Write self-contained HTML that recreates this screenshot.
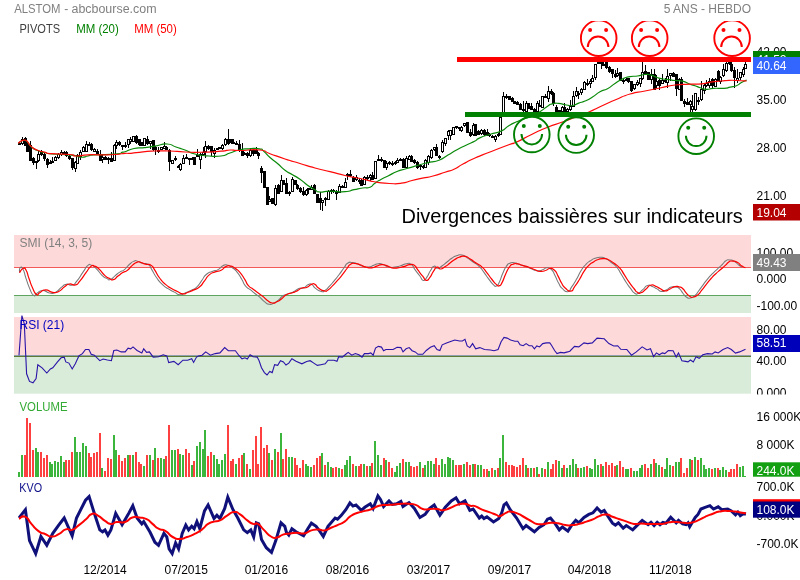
<!DOCTYPE html>
<html><head><meta charset="utf-8"><title>ALSTOM</title>
<style>html,body{margin:0;padding:0;background:#fff}body{width:800px;height:580px;overflow:hidden}</style></head>
<body>
<svg width="800" height="580" viewBox="0 0 800 580" style="will-change:transform;display:block;font-family:'Liberation Sans',sans-serif;font-size:12px">
<rect width="800" height="580" fill="#fff"/>
<rect x="14" y="235" width="737" height="32.5" fill="#fdd9d9"/>
<rect x="14" y="295.5" width="737" height="17.5" fill="#d9ebd9"/>
<rect x="14" y="267" width="737" height="1" fill="#f25a5a"/>
<rect x="14" y="295" width="737" height="1" fill="#5fa55f"/>
<rect x="14" y="317" width="737" height="39" fill="#fdd9d9"/>
<rect x="14" y="356" width="737" height="37.7" fill="#d9ebd9"/>
<rect x="14" y="355" width="737" height="1" fill="#8fa0b0"/>
<rect x="14" y="356" width="737" height="1" fill="#5f7a32"/>
<text x="756.5" y="56.4" fill="#000">42.00</text>
<text x="756.5" y="104.0" fill="#000">35.00</text>
<text x="756.5" y="152.0" fill="#000">28.00</text>
<text x="756.5" y="200.0" fill="#000">21.00</text>
<text x="756.5" y="256.5" fill="#000">100.00</text>
<text x="756.5" y="283.0" fill="#000">0.000</text>
<text x="756.5" y="309.5" fill="#000">-100.00</text>
<clipPath id="c1"><rect x="750" y="310" width="50" height="84.5"/></clipPath>
<g clip-path="url(#c1)">
<text x="756.5" y="333.6" fill="#000">80.00</text>
<text x="756.5" y="364.6" fill="#000">40.00</text>
<text x="756.5" y="396.6" fill="#000">0.000</text>
</g>
<text x="756.5" y="420.7" fill="#000">16 000K</text>
<text x="756.5" y="449.4" fill="#000">8 000K</text>
<text x="756.5" y="491.4" fill="#000">700.0K</text>
<text x="756.5" y="520.4" fill="#000">0.000K</text>
<text x="756.5" y="548.4" fill="#000">-700.0K</text>
<g shape-rendering="crispEdges">
<rect x="19" y="143" width="1" height="1" fill="#000"/>
<rect x="18" y="143" width="3" height="2" fill="#000"/>
<rect x="22" y="137" width="1" height="8" fill="#000"/>
<rect x="21" y="139" width="3" height="5" fill="#000"/>
<rect x="22" y="140" width="1" height="3" fill="#fff"/>
<rect x="25" y="137" width="1" height="9" fill="#000"/>
<rect x="24" y="138" width="3" height="8" fill="#000"/>
<rect x="27" y="142" width="1" height="10" fill="#000"/>
<rect x="26" y="143" width="3" height="9" fill="#000"/>
<rect x="30" y="141" width="1" height="20" fill="#000"/>
<rect x="29" y="145" width="3" height="16" fill="#000"/>
<rect x="33" y="157" width="1" height="8" fill="#000"/>
<rect x="32" y="158" width="3" height="5" fill="#000"/>
<rect x="36" y="161" width="1" height="8" fill="#000"/>
<rect x="35" y="161" width="3" height="2" fill="#000"/>
<rect x="38" y="151" width="1" height="11" fill="#000"/>
<rect x="37" y="154" width="3" height="7" fill="#000"/>
<rect x="38" y="155" width="1" height="5" fill="#fff"/>
<rect x="41" y="150" width="1" height="6" fill="#000"/>
<rect x="40" y="151" width="3" height="4" fill="#000"/>
<rect x="44" y="152" width="1" height="9" fill="#000"/>
<rect x="43" y="154" width="3" height="5" fill="#000"/>
<rect x="47" y="158" width="1" height="10" fill="#000"/>
<rect x="46" y="159" width="3" height="6" fill="#000"/>
<rect x="50" y="160" width="1" height="4" fill="#000"/>
<rect x="49" y="162" width="3" height="2" fill="#000"/>
<rect x="52" y="157" width="1" height="5" fill="#000"/>
<rect x="51" y="161" width="3" height="2" fill="#000"/>
<rect x="55" y="156" width="1" height="5" fill="#000"/>
<rect x="54" y="157" width="3" height="4" fill="#000"/>
<rect x="55" y="158" width="1" height="2" fill="#fff"/>
<rect x="58" y="153" width="1" height="6" fill="#000"/>
<rect x="57" y="154" width="3" height="4" fill="#000"/>
<rect x="58" y="155" width="1" height="2" fill="#fff"/>
<rect x="61" y="150" width="1" height="6" fill="#000"/>
<rect x="60" y="152" width="3" height="3" fill="#000"/>
<rect x="61" y="153" width="1" height="1" fill="#fff"/>
<rect x="64" y="151" width="1" height="3" fill="#000"/>
<rect x="63" y="152" width="3" height="2" fill="#000"/>
<rect x="66" y="151" width="1" height="6" fill="#000"/>
<rect x="65" y="152" width="3" height="4" fill="#000"/>
<rect x="69" y="155" width="1" height="5" fill="#000"/>
<rect x="68" y="156" width="3" height="3" fill="#000"/>
<rect x="72" y="158" width="1" height="12" fill="#000"/>
<rect x="71" y="158" width="3" height="10" fill="#000"/>
<rect x="75" y="161" width="1" height="11" fill="#000"/>
<rect x="74" y="162" width="3" height="7" fill="#000"/>
<rect x="75" y="163" width="1" height="5" fill="#fff"/>
<rect x="77" y="154" width="1" height="10" fill="#000"/>
<rect x="76" y="155" width="3" height="9" fill="#000"/>
<rect x="77" y="156" width="1" height="7" fill="#fff"/>
<rect x="80" y="150" width="1" height="10" fill="#000"/>
<rect x="79" y="152" width="3" height="5" fill="#000"/>
<rect x="80" y="153" width="1" height="3" fill="#fff"/>
<rect x="83" y="146" width="1" height="6" fill="#000"/>
<rect x="82" y="147" width="3" height="5" fill="#000"/>
<rect x="83" y="148" width="1" height="3" fill="#fff"/>
<rect x="86" y="141" width="1" height="11" fill="#000"/>
<rect x="85" y="144" width="3" height="8" fill="#000"/>
<rect x="86" y="145" width="1" height="6" fill="#fff"/>
<rect x="89" y="142" width="1" height="4" fill="#000"/>
<rect x="88" y="144" width="3" height="2" fill="#000"/>
<rect x="91" y="143" width="1" height="8" fill="#000"/>
<rect x="90" y="144" width="3" height="6" fill="#000"/>
<rect x="94" y="148" width="1" height="4" fill="#000"/>
<rect x="93" y="149" width="3" height="3" fill="#000"/>
<rect x="94" y="150" width="1" height="1" fill="#fff"/>
<rect x="97" y="149" width="1" height="5" fill="#000"/>
<rect x="96" y="151" width="3" height="3" fill="#000"/>
<rect x="100" y="150" width="1" height="11" fill="#000"/>
<rect x="99" y="154" width="3" height="7" fill="#000"/>
<rect x="102" y="155" width="1" height="8" fill="#000"/>
<rect x="101" y="157" width="3" height="3" fill="#000"/>
<rect x="102" y="158" width="1" height="1" fill="#fff"/>
<rect x="105" y="156" width="1" height="4" fill="#000"/>
<rect x="104" y="157" width="3" height="3" fill="#000"/>
<rect x="108" y="157" width="1" height="7" fill="#000"/>
<rect x="107" y="158" width="3" height="2" fill="#000"/>
<rect x="111" y="152" width="1" height="10" fill="#000"/>
<rect x="110" y="158" width="3" height="4" fill="#000"/>
<rect x="114" y="144" width="1" height="17" fill="#000"/>
<rect x="113" y="145" width="3" height="16" fill="#000"/>
<rect x="114" y="146" width="1" height="14" fill="#fff"/>
<rect x="116" y="140" width="1" height="9" fill="#000"/>
<rect x="115" y="142" width="3" height="4" fill="#000"/>
<rect x="116" y="143" width="1" height="2" fill="#fff"/>
<rect x="119" y="141" width="1" height="5" fill="#000"/>
<rect x="118" y="142" width="3" height="3" fill="#000"/>
<rect x="122" y="145" width="1" height="5" fill="#000"/>
<rect x="121" y="145" width="3" height="2" fill="#000"/>
<rect x="125" y="142" width="1" height="6" fill="#000"/>
<rect x="124" y="145" width="3" height="2" fill="#000"/>
<rect x="128" y="139" width="1" height="9" fill="#000"/>
<rect x="127" y="139" width="3" height="6" fill="#000"/>
<rect x="128" y="140" width="1" height="4" fill="#fff"/>
<rect x="130" y="137" width="1" height="7" fill="#000"/>
<rect x="129" y="139" width="3" height="3" fill="#000"/>
<rect x="130" y="140" width="1" height="1" fill="#fff"/>
<rect x="133" y="136" width="1" height="6" fill="#000"/>
<rect x="132" y="136" width="3" height="6" fill="#000"/>
<rect x="133" y="137" width="1" height="4" fill="#fff"/>
<rect x="136" y="135" width="1" height="9" fill="#000"/>
<rect x="135" y="136" width="3" height="7" fill="#000"/>
<rect x="139" y="139" width="1" height="7" fill="#000"/>
<rect x="138" y="139" width="3" height="6" fill="#000"/>
<rect x="141" y="142" width="1" height="4" fill="#000"/>
<rect x="140" y="142" width="3" height="4" fill="#000"/>
<rect x="144" y="138" width="1" height="8" fill="#000"/>
<rect x="143" y="138" width="3" height="8" fill="#000"/>
<rect x="144" y="139" width="1" height="6" fill="#fff"/>
<rect x="147" y="136" width="1" height="9" fill="#000"/>
<rect x="146" y="139" width="3" height="5" fill="#000"/>
<rect x="150" y="141" width="1" height="8" fill="#000"/>
<rect x="149" y="141" width="3" height="3" fill="#000"/>
<rect x="150" y="142" width="1" height="1" fill="#fff"/>
<rect x="153" y="140" width="1" height="11" fill="#000"/>
<rect x="152" y="140" width="3" height="10" fill="#000"/>
<rect x="155" y="146" width="1" height="9" fill="#000"/>
<rect x="154" y="147" width="3" height="3" fill="#000"/>
<rect x="158" y="147" width="1" height="6" fill="#000"/>
<rect x="157" y="150" width="3" height="2" fill="#000"/>
<rect x="161" y="147" width="1" height="3" fill="#000"/>
<rect x="160" y="147" width="3" height="3" fill="#000"/>
<rect x="161" y="148" width="1" height="1" fill="#fff"/>
<rect x="164" y="142" width="1" height="7" fill="#000"/>
<rect x="163" y="146" width="3" height="3" fill="#000"/>
<rect x="164" y="147" width="1" height="1" fill="#fff"/>
<rect x="166" y="146" width="1" height="4" fill="#000"/>
<rect x="165" y="147" width="3" height="3" fill="#000"/>
<rect x="169" y="149" width="1" height="22" fill="#000"/>
<rect x="168" y="150" width="3" height="12" fill="#000"/>
<rect x="172" y="160" width="1" height="4" fill="#000"/>
<rect x="171" y="160" width="3" height="4" fill="#000"/>
<rect x="172" y="161" width="1" height="2" fill="#fff"/>
<rect x="175" y="156" width="1" height="5" fill="#000"/>
<rect x="174" y="158" width="3" height="2" fill="#000"/>
<rect x="178" y="165" width="1" height="2" fill="#000"/>
<rect x="177" y="166" width="3" height="2" fill="#000"/>
<rect x="180" y="163" width="1" height="8" fill="#000"/>
<rect x="179" y="164" width="3" height="6" fill="#000"/>
<rect x="180" y="165" width="1" height="4" fill="#fff"/>
<rect x="183" y="155" width="1" height="9" fill="#000"/>
<rect x="182" y="158" width="3" height="6" fill="#000"/>
<rect x="183" y="159" width="1" height="4" fill="#fff"/>
<rect x="186" y="154" width="1" height="5" fill="#000"/>
<rect x="185" y="157" width="3" height="2" fill="#000"/>
<rect x="189" y="158" width="1" height="7" fill="#000"/>
<rect x="188" y="158" width="3" height="2" fill="#000"/>
<rect x="192" y="157" width="1" height="2" fill="#000"/>
<rect x="191" y="158" width="3" height="2" fill="#000"/>
<rect x="194" y="157" width="1" height="8" fill="#000"/>
<rect x="193" y="157" width="3" height="8" fill="#000"/>
<rect x="197" y="149" width="1" height="8" fill="#000"/>
<rect x="196" y="155" width="3" height="2" fill="#000"/>
<rect x="200" y="153" width="1" height="16" fill="#000"/>
<rect x="199" y="154" width="3" height="6" fill="#000"/>
<rect x="200" y="155" width="1" height="4" fill="#fff"/>
<rect x="203" y="147" width="1" height="9" fill="#000"/>
<rect x="202" y="152" width="3" height="3" fill="#000"/>
<rect x="203" y="153" width="1" height="1" fill="#fff"/>
<rect x="205" y="141" width="1" height="17" fill="#000"/>
<rect x="204" y="146" width="3" height="6" fill="#000"/>
<rect x="205" y="147" width="1" height="4" fill="#fff"/>
<rect x="208" y="145" width="1" height="5" fill="#000"/>
<rect x="207" y="146" width="3" height="3" fill="#000"/>
<rect x="211" y="146" width="1" height="10" fill="#000"/>
<rect x="210" y="146" width="3" height="6" fill="#000"/>
<rect x="214" y="148" width="1" height="10" fill="#000"/>
<rect x="213" y="150" width="3" height="4" fill="#000"/>
<rect x="214" y="151" width="1" height="2" fill="#fff"/>
<rect x="217" y="148" width="1" height="1" fill="#000"/>
<rect x="216" y="148" width="3" height="2" fill="#000"/>
<rect x="219" y="147" width="1" height="2" fill="#000"/>
<rect x="218" y="147" width="3" height="2" fill="#000"/>
<rect x="222" y="144" width="1" height="6" fill="#000"/>
<rect x="221" y="145" width="3" height="4" fill="#000"/>
<rect x="222" y="146" width="1" height="2" fill="#fff"/>
<rect x="225" y="138" width="1" height="8" fill="#000"/>
<rect x="224" y="139" width="3" height="6" fill="#000"/>
<rect x="225" y="140" width="1" height="4" fill="#fff"/>
<rect x="228" y="129" width="1" height="16" fill="#000"/>
<rect x="227" y="139" width="3" height="5" fill="#000"/>
<rect x="231" y="139" width="1" height="5" fill="#000"/>
<rect x="230" y="139" width="3" height="4" fill="#000"/>
<rect x="233" y="139" width="1" height="5" fill="#000"/>
<rect x="232" y="142" width="3" height="2" fill="#000"/>
<rect x="236" y="141" width="1" height="4" fill="#000"/>
<rect x="235" y="143" width="3" height="2" fill="#000"/>
<rect x="239" y="140" width="1" height="12" fill="#000"/>
<rect x="238" y="144" width="3" height="7" fill="#000"/>
<rect x="242" y="143" width="1" height="13" fill="#000"/>
<rect x="241" y="150" width="3" height="6" fill="#000"/>
<rect x="244" y="152" width="1" height="2" fill="#000"/>
<rect x="243" y="153" width="3" height="2" fill="#000"/>
<rect x="247" y="152" width="1" height="6" fill="#000"/>
<rect x="246" y="153" width="3" height="3" fill="#000"/>
<rect x="250" y="148" width="1" height="9" fill="#000"/>
<rect x="249" y="150" width="3" height="6" fill="#000"/>
<rect x="250" y="151" width="1" height="4" fill="#fff"/>
<rect x="253" y="149" width="1" height="7" fill="#000"/>
<rect x="252" y="150" width="3" height="4" fill="#000"/>
<rect x="256" y="147" width="1" height="7" fill="#000"/>
<rect x="255" y="150" width="3" height="4" fill="#000"/>
<rect x="258" y="152" width="1" height="7" fill="#000"/>
<rect x="257" y="153" width="3" height="3" fill="#000"/>
<rect x="261" y="166" width="1" height="17" fill="#000"/>
<rect x="260" y="168" width="3" height="5" fill="#000"/>
<rect x="264" y="171" width="1" height="17" fill="#000"/>
<rect x="263" y="171" width="3" height="17" fill="#000"/>
<rect x="267" y="187" width="1" height="18" fill="#000"/>
<rect x="266" y="187" width="3" height="18" fill="#000"/>
<rect x="269" y="196" width="1" height="6" fill="#000"/>
<rect x="268" y="199" width="3" height="3" fill="#000"/>
<rect x="269" y="200" width="1" height="1" fill="#fff"/>
<rect x="272" y="198" width="1" height="6" fill="#000"/>
<rect x="271" y="198" width="3" height="6" fill="#000"/>
<rect x="275" y="185" width="1" height="21" fill="#000"/>
<rect x="274" y="188" width="3" height="17" fill="#000"/>
<rect x="275" y="189" width="1" height="15" fill="#fff"/>
<rect x="278" y="184" width="1" height="10" fill="#000"/>
<rect x="277" y="185" width="3" height="9" fill="#000"/>
<rect x="281" y="175" width="1" height="17" fill="#000"/>
<rect x="280" y="180" width="3" height="12" fill="#000"/>
<rect x="281" y="181" width="1" height="10" fill="#fff"/>
<rect x="283" y="180" width="1" height="5" fill="#000"/>
<rect x="282" y="180" width="3" height="5" fill="#000"/>
<rect x="286" y="178" width="1" height="16" fill="#000"/>
<rect x="285" y="183" width="3" height="11" fill="#000"/>
<rect x="289" y="191" width="1" height="5" fill="#000"/>
<rect x="288" y="192" width="3" height="2" fill="#000"/>
<rect x="292" y="177" width="1" height="15" fill="#000"/>
<rect x="291" y="179" width="3" height="13" fill="#000"/>
<rect x="292" y="180" width="1" height="11" fill="#fff"/>
<rect x="295" y="180" width="1" height="5" fill="#000"/>
<rect x="294" y="180" width="3" height="5" fill="#000"/>
<rect x="297" y="184" width="1" height="6" fill="#000"/>
<rect x="296" y="185" width="3" height="4" fill="#000"/>
<rect x="300" y="187" width="1" height="6" fill="#000"/>
<rect x="299" y="188" width="3" height="4" fill="#000"/>
<rect x="303" y="187" width="1" height="9" fill="#000"/>
<rect x="302" y="191" width="3" height="4" fill="#000"/>
<rect x="306" y="189" width="1" height="7" fill="#000"/>
<rect x="305" y="190" width="3" height="5" fill="#000"/>
<rect x="306" y="191" width="1" height="3" fill="#fff"/>
<rect x="308" y="188" width="1" height="6" fill="#000"/>
<rect x="307" y="188" width="3" height="2" fill="#000"/>
<rect x="311" y="185" width="1" height="5" fill="#000"/>
<rect x="310" y="187" width="3" height="3" fill="#000"/>
<rect x="311" y="188" width="1" height="1" fill="#fff"/>
<rect x="314" y="184" width="1" height="10" fill="#000"/>
<rect x="313" y="185" width="3" height="9" fill="#000"/>
<rect x="317" y="194" width="1" height="9" fill="#000"/>
<rect x="316" y="194" width="3" height="9" fill="#000"/>
<rect x="320" y="192" width="1" height="18" fill="#000"/>
<rect x="319" y="198" width="3" height="5" fill="#000"/>
<rect x="322" y="200" width="1" height="11" fill="#000"/>
<rect x="321" y="200" width="3" height="3" fill="#000"/>
<rect x="322" y="201" width="1" height="1" fill="#fff"/>
<rect x="325" y="197" width="1" height="9" fill="#000"/>
<rect x="324" y="198" width="3" height="2" fill="#000"/>
<rect x="328" y="190" width="1" height="10" fill="#000"/>
<rect x="327" y="191" width="3" height="9" fill="#000"/>
<rect x="328" y="192" width="1" height="7" fill="#fff"/>
<rect x="331" y="189" width="1" height="5" fill="#000"/>
<rect x="330" y="190" width="3" height="2" fill="#000"/>
<rect x="333" y="189" width="1" height="4" fill="#000"/>
<rect x="332" y="190" width="3" height="2" fill="#000"/>
<rect x="336" y="190" width="1" height="10" fill="#000"/>
<rect x="335" y="191" width="3" height="3" fill="#000"/>
<rect x="339" y="184" width="1" height="9" fill="#000"/>
<rect x="338" y="186" width="3" height="7" fill="#000"/>
<rect x="339" y="187" width="1" height="5" fill="#fff"/>
<rect x="342" y="185" width="1" height="3" fill="#000"/>
<rect x="341" y="186" width="3" height="2" fill="#000"/>
<rect x="345" y="178" width="1" height="10" fill="#000"/>
<rect x="344" y="182" width="3" height="6" fill="#000"/>
<rect x="345" y="183" width="1" height="4" fill="#fff"/>
<rect x="347" y="173" width="1" height="7" fill="#000"/>
<rect x="346" y="174" width="3" height="2" fill="#000"/>
<rect x="350" y="170" width="1" height="7" fill="#000"/>
<rect x="349" y="174" width="3" height="2" fill="#000"/>
<rect x="353" y="176" width="1" height="6" fill="#000"/>
<rect x="352" y="177" width="3" height="5" fill="#000"/>
<rect x="356" y="175" width="1" height="6" fill="#000"/>
<rect x="355" y="177" width="3" height="3" fill="#000"/>
<rect x="356" y="178" width="1" height="1" fill="#fff"/>
<rect x="359" y="178" width="1" height="6" fill="#000"/>
<rect x="358" y="180" width="3" height="2" fill="#000"/>
<rect x="361" y="179" width="1" height="7" fill="#000"/>
<rect x="360" y="180" width="3" height="6" fill="#000"/>
<rect x="364" y="176" width="1" height="9" fill="#000"/>
<rect x="363" y="177" width="3" height="8" fill="#000"/>
<rect x="364" y="178" width="1" height="6" fill="#fff"/>
<rect x="367" y="175" width="1" height="5" fill="#000"/>
<rect x="366" y="177" width="3" height="2" fill="#000"/>
<rect x="370" y="174" width="1" height="7" fill="#000"/>
<rect x="369" y="175" width="3" height="3" fill="#000"/>
<rect x="370" y="176" width="1" height="1" fill="#fff"/>
<rect x="372" y="172" width="1" height="8" fill="#000"/>
<rect x="371" y="175" width="3" height="5" fill="#000"/>
<rect x="375" y="161" width="1" height="18" fill="#000"/>
<rect x="374" y="161" width="3" height="18" fill="#000"/>
<rect x="375" y="162" width="1" height="16" fill="#fff"/>
<rect x="378" y="155" width="1" height="6" fill="#000"/>
<rect x="377" y="159" width="3" height="2" fill="#000"/>
<rect x="381" y="157" width="1" height="5" fill="#000"/>
<rect x="380" y="159" width="3" height="2" fill="#000"/>
<rect x="384" y="160" width="1" height="8" fill="#000"/>
<rect x="383" y="160" width="3" height="8" fill="#000"/>
<rect x="386" y="161" width="1" height="9" fill="#000"/>
<rect x="385" y="163" width="3" height="5" fill="#000"/>
<rect x="386" y="164" width="1" height="3" fill="#fff"/>
<rect x="389" y="161" width="1" height="4" fill="#000"/>
<rect x="388" y="162" width="3" height="2" fill="#000"/>
<rect x="392" y="161" width="1" height="5" fill="#000"/>
<rect x="391" y="163" width="3" height="2" fill="#000"/>
<rect x="395" y="161" width="1" height="4" fill="#000"/>
<rect x="394" y="162" width="3" height="2" fill="#000"/>
<rect x="397" y="158" width="1" height="5" fill="#000"/>
<rect x="396" y="160" width="3" height="3" fill="#000"/>
<rect x="397" y="161" width="1" height="1" fill="#fff"/>
<rect x="400" y="158" width="1" height="3" fill="#000"/>
<rect x="399" y="159" width="3" height="2" fill="#000"/>
<rect x="403" y="158" width="1" height="10" fill="#000"/>
<rect x="402" y="159" width="3" height="9" fill="#000"/>
<rect x="406" y="156" width="1" height="12" fill="#000"/>
<rect x="405" y="158" width="3" height="10" fill="#000"/>
<rect x="406" y="159" width="1" height="8" fill="#fff"/>
<rect x="409" y="155" width="1" height="5" fill="#000"/>
<rect x="408" y="156" width="3" height="4" fill="#000"/>
<rect x="409" y="157" width="1" height="2" fill="#fff"/>
<rect x="411" y="155" width="1" height="7" fill="#000"/>
<rect x="410" y="156" width="3" height="6" fill="#000"/>
<rect x="414" y="159" width="1" height="5" fill="#000"/>
<rect x="413" y="160" width="3" height="3" fill="#000"/>
<rect x="417" y="161" width="1" height="8" fill="#000"/>
<rect x="416" y="162" width="3" height="6" fill="#000"/>
<rect x="420" y="164" width="1" height="6" fill="#000"/>
<rect x="419" y="165" width="3" height="2" fill="#000"/>
<rect x="423" y="165" width="1" height="4" fill="#000"/>
<rect x="422" y="166" width="3" height="2" fill="#000"/>
<rect x="425" y="159" width="1" height="9" fill="#000"/>
<rect x="424" y="160" width="3" height="8" fill="#000"/>
<rect x="425" y="161" width="1" height="6" fill="#fff"/>
<rect x="428" y="155" width="1" height="10" fill="#000"/>
<rect x="427" y="156" width="3" height="7" fill="#000"/>
<rect x="428" y="157" width="1" height="5" fill="#fff"/>
<rect x="431" y="149" width="1" height="10" fill="#000"/>
<rect x="430" y="150" width="3" height="8" fill="#000"/>
<rect x="431" y="151" width="1" height="6" fill="#fff"/>
<rect x="434" y="147" width="1" height="4" fill="#000"/>
<rect x="433" y="147" width="3" height="3" fill="#000"/>
<rect x="434" y="148" width="1" height="1" fill="#fff"/>
<rect x="436" y="144" width="1" height="12" fill="#000"/>
<rect x="435" y="147" width="3" height="9" fill="#000"/>
<rect x="439" y="155" width="1" height="4" fill="#000"/>
<rect x="438" y="156" width="3" height="2" fill="#000"/>
<rect x="442" y="140" width="1" height="13" fill="#000"/>
<rect x="441" y="142" width="3" height="10" fill="#000"/>
<rect x="442" y="143" width="1" height="8" fill="#fff"/>
<rect x="445" y="138" width="1" height="8" fill="#000"/>
<rect x="444" y="138" width="3" height="6" fill="#000"/>
<rect x="445" y="139" width="1" height="4" fill="#fff"/>
<rect x="448" y="130" width="1" height="10" fill="#000"/>
<rect x="447" y="131" width="3" height="5" fill="#000"/>
<rect x="448" y="132" width="1" height="3" fill="#fff"/>
<rect x="450" y="130" width="1" height="10" fill="#000"/>
<rect x="449" y="130" width="3" height="6" fill="#000"/>
<rect x="450" y="131" width="1" height="4" fill="#fff"/>
<rect x="453" y="127" width="1" height="8" fill="#000"/>
<rect x="452" y="127" width="3" height="8" fill="#000"/>
<rect x="453" y="128" width="1" height="6" fill="#fff"/>
<rect x="456" y="126" width="1" height="3" fill="#000"/>
<rect x="455" y="126" width="3" height="2" fill="#000"/>
<rect x="459" y="127" width="1" height="4" fill="#000"/>
<rect x="458" y="127" width="3" height="2" fill="#000"/>
<rect x="461" y="126" width="1" height="6" fill="#000"/>
<rect x="460" y="127" width="3" height="4" fill="#000"/>
<rect x="461" y="128" width="1" height="2" fill="#fff"/>
<rect x="464" y="123" width="1" height="4" fill="#000"/>
<rect x="463" y="123" width="3" height="3" fill="#000"/>
<rect x="464" y="124" width="1" height="1" fill="#fff"/>
<rect x="467" y="122" width="1" height="11" fill="#000"/>
<rect x="466" y="122" width="3" height="11" fill="#000"/>
<rect x="470" y="129" width="1" height="8" fill="#000"/>
<rect x="469" y="132" width="3" height="4" fill="#000"/>
<rect x="473" y="123" width="1" height="13" fill="#000"/>
<rect x="472" y="125" width="3" height="10" fill="#000"/>
<rect x="473" y="126" width="1" height="8" fill="#fff"/>
<rect x="475" y="124" width="1" height="12" fill="#000"/>
<rect x="474" y="124" width="3" height="12" fill="#000"/>
<rect x="478" y="130" width="1" height="5" fill="#000"/>
<rect x="477" y="131" width="3" height="4" fill="#000"/>
<rect x="481" y="129" width="1" height="6" fill="#000"/>
<rect x="480" y="130" width="3" height="4" fill="#000"/>
<rect x="481" y="131" width="1" height="2" fill="#fff"/>
<rect x="484" y="129" width="1" height="7" fill="#000"/>
<rect x="483" y="130" width="3" height="5" fill="#000"/>
<rect x="487" y="129" width="1" height="7" fill="#000"/>
<rect x="486" y="132" width="3" height="3" fill="#000"/>
<rect x="489" y="133" width="1" height="4" fill="#000"/>
<rect x="488" y="134" width="3" height="2" fill="#000"/>
<rect x="492" y="135" width="1" height="3" fill="#000"/>
<rect x="491" y="136" width="3" height="2" fill="#000"/>
<rect x="495" y="135" width="1" height="7" fill="#000"/>
<rect x="494" y="136" width="3" height="4" fill="#000"/>
<rect x="495" y="137" width="1" height="2" fill="#fff"/>
<rect x="498" y="133" width="1" height="4" fill="#000"/>
<rect x="497" y="134" width="3" height="2" fill="#000"/>
<rect x="500" y="117" width="1" height="18" fill="#000"/>
<rect x="499" y="117" width="3" height="18" fill="#000"/>
<rect x="500" y="118" width="1" height="16" fill="#fff"/>
<rect x="503" y="92" width="1" height="25" fill="#000"/>
<rect x="502" y="96" width="3" height="21" fill="#000"/>
<rect x="503" y="97" width="1" height="19" fill="#fff"/>
<rect x="506" y="94" width="1" height="5" fill="#000"/>
<rect x="505" y="96" width="3" height="2" fill="#000"/>
<rect x="509" y="96" width="1" height="4" fill="#000"/>
<rect x="508" y="96" width="3" height="4" fill="#000"/>
<rect x="512" y="97" width="1" height="5" fill="#000"/>
<rect x="511" y="98" width="3" height="4" fill="#000"/>
<rect x="514" y="101" width="1" height="3" fill="#000"/>
<rect x="513" y="101" width="3" height="3" fill="#000"/>
<rect x="517" y="101" width="1" height="4" fill="#000"/>
<rect x="516" y="102" width="3" height="3" fill="#000"/>
<rect x="520" y="103" width="1" height="7" fill="#000"/>
<rect x="519" y="104" width="3" height="6" fill="#000"/>
<rect x="523" y="101" width="1" height="11" fill="#000"/>
<rect x="522" y="109" width="3" height="2" fill="#000"/>
<rect x="526" y="101" width="1" height="11" fill="#000"/>
<rect x="525" y="103" width="3" height="9" fill="#000"/>
<rect x="526" y="104" width="1" height="7" fill="#fff"/>
<rect x="528" y="103" width="1" height="6" fill="#000"/>
<rect x="527" y="103" width="3" height="6" fill="#000"/>
<rect x="531" y="103" width="1" height="7" fill="#000"/>
<rect x="530" y="106" width="3" height="4" fill="#000"/>
<rect x="534" y="108" width="1" height="4" fill="#000"/>
<rect x="533" y="109" width="3" height="3" fill="#000"/>
<rect x="537" y="101" width="1" height="11" fill="#000"/>
<rect x="536" y="103" width="3" height="9" fill="#000"/>
<rect x="537" y="104" width="1" height="7" fill="#fff"/>
<rect x="539" y="100" width="1" height="6" fill="#000"/>
<rect x="538" y="105" width="3" height="2" fill="#000"/>
<rect x="542" y="96" width="1" height="12" fill="#000"/>
<rect x="541" y="96" width="3" height="12" fill="#000"/>
<rect x="542" y="97" width="1" height="10" fill="#fff"/>
<rect x="545" y="94" width="1" height="4" fill="#000"/>
<rect x="544" y="96" width="3" height="2" fill="#000"/>
<rect x="548" y="86" width="1" height="16" fill="#000"/>
<rect x="547" y="91" width="3" height="8" fill="#000"/>
<rect x="548" y="92" width="1" height="6" fill="#fff"/>
<rect x="551" y="89" width="1" height="6" fill="#000"/>
<rect x="550" y="91" width="3" height="3" fill="#000"/>
<rect x="553" y="92" width="1" height="14" fill="#000"/>
<rect x="552" y="93" width="3" height="11" fill="#000"/>
<rect x="556" y="105" width="1" height="7" fill="#000"/>
<rect x="555" y="107" width="3" height="5" fill="#000"/>
<rect x="559" y="110" width="1" height="2" fill="#000"/>
<rect x="558" y="110" width="3" height="2" fill="#000"/>
<rect x="562" y="106" width="1" height="6" fill="#000"/>
<rect x="561" y="107" width="3" height="5" fill="#000"/>
<rect x="562" y="108" width="1" height="3" fill="#fff"/>
<rect x="564" y="103" width="1" height="9" fill="#000"/>
<rect x="563" y="107" width="3" height="5" fill="#000"/>
<rect x="567" y="108" width="1" height="4" fill="#000"/>
<rect x="566" y="109" width="3" height="3" fill="#000"/>
<rect x="567" y="110" width="1" height="1" fill="#fff"/>
<rect x="570" y="100" width="1" height="11" fill="#000"/>
<rect x="569" y="106" width="3" height="4" fill="#000"/>
<rect x="570" y="107" width="1" height="2" fill="#fff"/>
<rect x="573" y="91" width="1" height="16" fill="#000"/>
<rect x="572" y="96" width="3" height="11" fill="#000"/>
<rect x="573" y="97" width="1" height="9" fill="#fff"/>
<rect x="576" y="87" width="1" height="10" fill="#000"/>
<rect x="575" y="91" width="3" height="5" fill="#000"/>
<rect x="576" y="92" width="1" height="3" fill="#fff"/>
<rect x="578" y="91" width="1" height="8" fill="#000"/>
<rect x="577" y="93" width="3" height="2" fill="#000"/>
<rect x="581" y="88" width="1" height="7" fill="#000"/>
<rect x="580" y="89" width="3" height="4" fill="#000"/>
<rect x="581" y="90" width="1" height="2" fill="#fff"/>
<rect x="584" y="81" width="1" height="9" fill="#000"/>
<rect x="583" y="82" width="3" height="8" fill="#000"/>
<rect x="584" y="83" width="1" height="6" fill="#fff"/>
<rect x="587" y="79" width="1" height="7" fill="#000"/>
<rect x="586" y="83" width="3" height="2" fill="#000"/>
<rect x="590" y="79" width="1" height="9" fill="#000"/>
<rect x="589" y="81" width="3" height="3" fill="#000"/>
<rect x="590" y="82" width="1" height="1" fill="#fff"/>
<rect x="592" y="75" width="1" height="7" fill="#000"/>
<rect x="591" y="78" width="3" height="4" fill="#000"/>
<rect x="592" y="79" width="1" height="2" fill="#fff"/>
<rect x="595" y="64" width="1" height="16" fill="#000"/>
<rect x="594" y="64" width="3" height="14" fill="#000"/>
<rect x="595" y="65" width="1" height="12" fill="#fff"/>
<rect x="598" y="62" width="1" height="2" fill="#000"/>
<rect x="597" y="62" width="3" height="2" fill="#000"/>
<rect x="601" y="62" width="1" height="7" fill="#000"/>
<rect x="600" y="62" width="3" height="2" fill="#000"/>
<rect x="603" y="62" width="1" height="4" fill="#000"/>
<rect x="602" y="64" width="3" height="2" fill="#000"/>
<rect x="606" y="62" width="1" height="7" fill="#000"/>
<rect x="605" y="62" width="3" height="6" fill="#000"/>
<rect x="609" y="66" width="1" height="7" fill="#000"/>
<rect x="608" y="67" width="3" height="5" fill="#000"/>
<rect x="612" y="69" width="1" height="9" fill="#000"/>
<rect x="611" y="69" width="3" height="5" fill="#000"/>
<rect x="615" y="70" width="1" height="8" fill="#000"/>
<rect x="614" y="74" width="3" height="3" fill="#000"/>
<rect x="617" y="68" width="1" height="9" fill="#000"/>
<rect x="616" y="73" width="3" height="3" fill="#000"/>
<rect x="617" y="74" width="1" height="1" fill="#fff"/>
<rect x="620" y="72" width="1" height="9" fill="#000"/>
<rect x="619" y="72" width="3" height="9" fill="#000"/>
<rect x="623" y="79" width="1" height="5" fill="#000"/>
<rect x="622" y="80" width="3" height="2" fill="#000"/>
<rect x="626" y="78" width="1" height="3" fill="#000"/>
<rect x="625" y="79" width="3" height="2" fill="#000"/>
<rect x="628" y="78" width="1" height="5" fill="#000"/>
<rect x="627" y="78" width="3" height="4" fill="#000"/>
<rect x="631" y="81" width="1" height="11" fill="#000"/>
<rect x="630" y="81" width="3" height="10" fill="#000"/>
<rect x="634" y="84" width="1" height="6" fill="#000"/>
<rect x="633" y="84" width="3" height="5" fill="#000"/>
<rect x="634" y="85" width="1" height="3" fill="#fff"/>
<rect x="637" y="80" width="1" height="6" fill="#000"/>
<rect x="636" y="82" width="3" height="3" fill="#000"/>
<rect x="637" y="83" width="1" height="1" fill="#fff"/>
<rect x="640" y="78" width="1" height="9" fill="#000"/>
<rect x="639" y="78" width="3" height="6" fill="#000"/>
<rect x="640" y="79" width="1" height="4" fill="#fff"/>
<rect x="642" y="62" width="1" height="18" fill="#000"/>
<rect x="641" y="72" width="3" height="7" fill="#000"/>
<rect x="642" y="73" width="1" height="5" fill="#fff"/>
<rect x="645" y="65" width="1" height="9" fill="#000"/>
<rect x="644" y="71" width="3" height="3" fill="#000"/>
<rect x="648" y="72" width="1" height="8" fill="#000"/>
<rect x="647" y="72" width="3" height="8" fill="#000"/>
<rect x="651" y="69" width="1" height="15" fill="#000"/>
<rect x="650" y="74" width="3" height="6" fill="#000"/>
<rect x="651" y="75" width="1" height="4" fill="#fff"/>
<rect x="654" y="69" width="1" height="21" fill="#000"/>
<rect x="653" y="74" width="3" height="16" fill="#000"/>
<rect x="656" y="75" width="1" height="13" fill="#000"/>
<rect x="655" y="81" width="3" height="5" fill="#000"/>
<rect x="656" y="82" width="1" height="3" fill="#fff"/>
<rect x="659" y="79" width="1" height="11" fill="#000"/>
<rect x="658" y="80" width="3" height="6" fill="#000"/>
<rect x="662" y="74" width="1" height="10" fill="#000"/>
<rect x="661" y="80" width="3" height="4" fill="#000"/>
<rect x="662" y="81" width="1" height="2" fill="#fff"/>
<rect x="665" y="78" width="1" height="5" fill="#000"/>
<rect x="664" y="80" width="3" height="2" fill="#000"/>
<rect x="667" y="69" width="1" height="19" fill="#000"/>
<rect x="666" y="76" width="3" height="7" fill="#000"/>
<rect x="667" y="77" width="1" height="5" fill="#fff"/>
<rect x="670" y="73" width="1" height="8" fill="#000"/>
<rect x="669" y="73" width="3" height="3" fill="#000"/>
<rect x="670" y="74" width="1" height="1" fill="#fff"/>
<rect x="673" y="72" width="1" height="5" fill="#000"/>
<rect x="672" y="73" width="3" height="4" fill="#000"/>
<rect x="676" y="74" width="1" height="22" fill="#000"/>
<rect x="675" y="74" width="3" height="15" fill="#000"/>
<rect x="679" y="78" width="1" height="12" fill="#000"/>
<rect x="678" y="79" width="3" height="11" fill="#000"/>
<rect x="679" y="80" width="1" height="9" fill="#fff"/>
<rect x="681" y="77" width="1" height="24" fill="#000"/>
<rect x="680" y="79" width="3" height="22" fill="#000"/>
<rect x="684" y="99" width="1" height="8" fill="#000"/>
<rect x="683" y="101" width="3" height="3" fill="#000"/>
<rect x="687" y="98" width="1" height="7" fill="#000"/>
<rect x="686" y="102" width="3" height="3" fill="#000"/>
<rect x="690" y="100" width="1" height="12" fill="#000"/>
<rect x="689" y="101" width="3" height="4" fill="#000"/>
<rect x="690" y="102" width="1" height="2" fill="#fff"/>
<rect x="692" y="95" width="1" height="17" fill="#000"/>
<rect x="691" y="106" width="3" height="4" fill="#000"/>
<rect x="692" y="107" width="1" height="2" fill="#fff"/>
<rect x="695" y="93" width="1" height="18" fill="#000"/>
<rect x="694" y="93" width="3" height="17" fill="#000"/>
<rect x="695" y="94" width="1" height="15" fill="#fff"/>
<rect x="698" y="97" width="1" height="8" fill="#000"/>
<rect x="697" y="100" width="3" height="2" fill="#000"/>
<rect x="701" y="81" width="1" height="20" fill="#000"/>
<rect x="700" y="89" width="3" height="11" fill="#000"/>
<rect x="701" y="90" width="1" height="9" fill="#fff"/>
<rect x="704" y="84" width="1" height="10" fill="#000"/>
<rect x="703" y="85" width="3" height="6" fill="#000"/>
<rect x="704" y="86" width="1" height="4" fill="#fff"/>
<rect x="706" y="80" width="1" height="7" fill="#000"/>
<rect x="705" y="83" width="3" height="3" fill="#000"/>
<rect x="706" y="84" width="1" height="1" fill="#fff"/>
<rect x="709" y="78" width="1" height="10" fill="#000"/>
<rect x="708" y="81" width="3" height="5" fill="#000"/>
<rect x="709" y="82" width="1" height="3" fill="#fff"/>
<rect x="712" y="78" width="1" height="10" fill="#000"/>
<rect x="711" y="79" width="3" height="7" fill="#000"/>
<rect x="715" y="78" width="1" height="9" fill="#000"/>
<rect x="714" y="79" width="3" height="8" fill="#000"/>
<rect x="715" y="80" width="1" height="6" fill="#fff"/>
<rect x="718" y="70" width="1" height="11" fill="#000"/>
<rect x="717" y="71" width="3" height="10" fill="#000"/>
<rect x="720" y="76" width="1" height="8" fill="#000"/>
<rect x="719" y="77" width="3" height="5" fill="#000"/>
<rect x="720" y="78" width="1" height="3" fill="#fff"/>
<rect x="723" y="64" width="1" height="13" fill="#000"/>
<rect x="722" y="69" width="3" height="7" fill="#000"/>
<rect x="723" y="70" width="1" height="5" fill="#fff"/>
<rect x="726" y="62" width="1" height="10" fill="#000"/>
<rect x="725" y="63" width="3" height="8" fill="#000"/>
<rect x="726" y="64" width="1" height="6" fill="#fff"/>
<rect x="729" y="62" width="1" height="3" fill="#000"/>
<rect x="728" y="62" width="3" height="2" fill="#000"/>
<rect x="731" y="62" width="1" height="10" fill="#000"/>
<rect x="730" y="64" width="3" height="7" fill="#000"/>
<rect x="734" y="67" width="1" height="21" fill="#000"/>
<rect x="733" y="70" width="3" height="8" fill="#000"/>
<rect x="737" y="69" width="1" height="14" fill="#000"/>
<rect x="736" y="78" width="3" height="3" fill="#000"/>
<rect x="737" y="79" width="1" height="1" fill="#fff"/>
<rect x="740" y="72" width="1" height="8" fill="#000"/>
<rect x="739" y="72" width="3" height="6" fill="#000"/>
<rect x="740" y="73" width="1" height="4" fill="#fff"/>
<rect x="743" y="67" width="1" height="10" fill="#000"/>
<rect x="742" y="69" width="3" height="6" fill="#000"/>
<rect x="743" y="70" width="1" height="4" fill="#fff"/>
<rect x="745" y="62" width="1" height="7" fill="#000"/>
<rect x="744" y="64" width="3" height="5" fill="#000"/>
<rect x="745" y="65" width="1" height="3" fill="#fff"/>
</g>
<path d="M18.2,143.2 C20.5,142.3 20.7,139.4 25.0,140.5 C29.3,141.6 27.0,143.2 31.0,146.5 C35.0,149.8 32.5,148.3 37.0,150.3 C41.5,152.3 39.5,151.3 44.5,152.5 C49.5,153.7 43.0,153.1 52.0,154.0 C61.0,154.9 62.0,154.1 71.5,155.2 C81.0,156.3 75.0,156.9 80.5,157.2 C86.0,157.5 83.5,156.8 88.0,156.0 C92.5,155.2 85.0,155.4 94.0,154.8 C103.0,154.2 105.5,155.1 115.0,154.2 C124.5,153.3 119.2,153.0 122.5,152.2 C125.8,151.4 121.2,153.0 125.0,151.8 C128.8,150.6 127.5,149.9 134.0,148.5 C140.5,147.1 137.5,148.5 144.5,147.7 C151.5,146.9 147.5,147.4 155.0,146.2 C162.5,145.0 160.0,143.7 167.0,144.0 C174.0,144.3 170.0,145.0 176.0,147.0 C182.0,149.0 179.0,147.8 185.0,150.0 C191.0,152.2 188.0,151.9 194.0,153.7 C200.0,155.5 198.0,154.7 203.0,155.5 C208.0,156.3 203.0,155.8 209.0,156.0 C215.0,156.2 214.0,157.0 221.0,156.0 C228.0,155.0 224.0,155.0 230.0,153.0 C236.0,151.0 232.7,151.4 239.0,150.0 C245.3,148.6 242.2,149.2 249.0,148.8 C255.8,148.4 254.5,147.9 259.5,148.8 C264.5,149.7 260.5,148.6 264.0,151.5 C267.5,154.4 265.5,153.5 270.0,157.5 C274.5,161.5 272.5,159.3 277.5,163.5 C282.5,167.7 280.0,166.5 285.0,170.2 C290.0,173.9 287.5,171.7 292.5,174.7 C297.5,177.7 295.0,175.7 300.0,179.2 C305.0,182.7 302.5,181.7 307.5,185.2 C312.5,188.7 311.0,187.4 315.0,189.7 C319.0,192.0 314.5,191.5 319.5,192.0 C324.5,192.5 321.5,191.3 330.0,191.2 C338.5,191.1 337.0,192.2 345.0,191.7 C353.0,191.2 348.2,190.9 354.0,189.7 C359.8,188.5 357.2,188.8 362.5,188.0 C367.8,187.2 366.0,188.7 370.0,187.2 C374.0,185.7 371.0,186.0 374.5,183.5 C378.0,181.0 376.0,182.2 380.5,179.7 C385.0,177.2 382.5,178.7 388.0,176.0 C393.5,173.3 391.0,173.9 397.0,171.5 C403.0,169.1 400.0,170.6 406.0,168.8 C412.0,167.0 409.5,167.8 415.0,166.2 C420.5,164.6 417.5,165.3 422.5,164.0 C427.5,162.7 424.5,163.5 430.0,162.2 C435.5,160.9 433.0,162.6 439.0,160.2 C445.0,157.8 442.0,158.5 448.0,155.0 C454.0,151.5 451.0,153.0 457.0,149.7 C463.0,146.4 460.0,148.1 466.0,145.2 C472.0,142.3 470.6,143.4 475.0,141.0 C479.4,138.6 474.2,140.4 479.3,138.1 C484.4,135.8 483.0,136.5 490.2,134.2 C497.4,131.9 494.8,133.9 501.0,131.1 C507.2,128.3 503.6,128.8 508.8,125.7 C514.0,122.6 511.4,124.1 516.6,121.8 C521.8,119.5 519.1,120.5 524.3,118.7 C529.5,116.9 526.9,118.6 532.1,116.3 C537.3,114.0 534.7,115.1 539.9,111.7 C545.1,108.3 543.5,108.8 547.6,106.2 C551.7,103.6 548.7,104.8 552.3,103.9 C555.9,103.0 553.8,103.0 558.5,103.4 C563.2,103.8 561.6,104.3 566.3,105.0 C571.0,105.7 568.4,106.1 572.5,105.5 C576.6,104.9 574.5,104.6 578.7,103.1 C582.9,101.6 580.4,103.0 585.0,101.0 C589.6,99.0 587.5,100.1 592.5,97.0 C597.5,93.9 595.0,94.5 600.0,91.7 C605.0,88.9 602.5,91.4 607.5,88.7 C612.5,86.0 610.0,86.7 615.0,83.5 C620.0,80.3 617.5,81.3 622.5,79.0 C627.5,76.7 625.0,77.7 630.0,76.7 C635.0,75.7 632.5,76.7 637.5,76.0 C642.5,75.3 640.5,74.8 645.0,74.5 C649.5,74.2 647.0,74.2 651.0,75.2 C655.0,76.2 653.0,76.2 657.0,77.5 C661.0,78.8 659.0,78.3 663.0,79.0 C667.0,79.7 665.0,79.2 669.0,79.7 C673.0,80.2 670.5,80.0 675.0,80.5 C679.5,81.0 677.5,80.0 682.5,81.2 C687.5,82.4 685.8,82.7 690.0,84.2 C694.2,85.7 691.6,84.5 695.0,85.7 C698.4,86.9 696.4,86.5 700.2,87.7 C704.0,88.9 701.9,89.1 706.4,89.3 C710.9,89.5 707.7,88.6 713.6,88.3 C719.5,88.0 718.5,88.7 724.0,88.3 C729.5,87.9 726.1,88.1 730.2,87.2 C734.3,86.3 732.6,87.2 736.4,85.7 C740.2,84.2 738.1,84.5 741.5,82.6 C744.9,80.7 745.0,80.9 746.7,80.0" fill="none" stroke="#0a8a0a" stroke-width="1.2"/>
<path d="M18.2,143.2 C20.5,142.2 20.7,139.2 25.0,140.2 C29.3,141.2 27.0,142.9 31.0,146.2 C35.0,149.5 32.5,148.0 37.0,150.0 C41.5,152.0 39.5,151.0 44.5,152.2 C49.5,153.4 43.5,152.9 52.0,153.7 C60.5,154.5 62.0,153.7 70.0,154.5 C78.0,155.3 70.0,155.9 76.0,156.0 C82.0,156.1 80.0,155.2 88.0,154.8 C96.0,154.4 91.0,154.9 100.0,154.8 C109.0,154.7 106.7,155.0 115.0,154.5 C123.3,154.0 119.7,153.7 125.0,153.3 C130.3,152.9 125.0,153.8 131.0,153.3 C137.0,152.8 135.0,152.6 143.0,151.8 C151.0,151.0 146.0,151.3 155.0,151.0 C164.0,150.7 160.0,150.7 170.0,151.0 C180.0,151.3 174.0,151.6 185.0,152.0 C196.0,152.4 191.0,152.5 203.0,152.2 C215.0,151.9 212.0,151.9 221.0,151.2 C230.0,150.5 223.7,150.2 230.0,150.0 C236.3,149.8 230.2,150.5 240.0,150.5 C249.8,150.5 249.5,148.9 259.5,150.0 C269.5,151.1 261.5,150.7 270.0,153.7 C278.5,156.7 275.0,155.7 285.0,159.0 C295.0,162.3 290.0,160.5 300.0,163.5 C310.0,166.5 305.0,165.3 315.0,168.0 C325.0,170.7 320.0,169.2 330.0,171.7 C340.0,174.2 336.7,173.6 345.0,175.5 C353.3,177.4 349.2,176.3 355.0,177.5 C360.8,178.7 357.5,177.9 362.5,179.0 C367.5,180.1 365.0,179.7 370.0,180.8 C375.0,181.9 371.0,181.4 377.5,182.3 C384.0,183.2 381.5,183.2 389.5,183.5 C397.5,183.8 394.0,184.2 401.5,183.2 C409.0,182.2 405.0,182.2 412.0,180.5 C419.0,178.8 415.5,179.7 422.5,178.2 C429.5,176.7 425.5,178.0 433.0,176.0 C440.5,174.0 438.0,174.5 445.0,172.2 C452.0,169.9 448.0,171.9 454.0,169.2 C460.0,166.5 456.0,167.7 463.0,164.0 C470.0,160.3 466.0,162.0 475.0,158.0 C484.0,154.0 478.7,156.4 490.0,152.0 C501.3,147.6 499.9,148.1 508.8,144.8 C517.7,141.5 508.8,145.5 516.6,142.0 C524.4,138.5 521.8,139.1 532.1,134.2 C542.4,129.3 537.2,131.3 547.6,127.2 C558.0,123.1 552.8,125.7 563.2,121.8 C573.6,117.9 569.9,119.0 578.7,115.6 C587.5,112.2 582.4,114.7 589.5,111.7 C596.6,108.7 591.5,110.6 600.0,106.7 C608.5,102.8 605.0,104.2 615.0,100.0 C625.0,95.8 620.0,97.0 630.0,94.0 C640.0,91.0 635.0,93.0 645.0,91.0 C655.0,89.0 650.0,90.0 660.0,88.0 C670.0,86.0 665.0,86.3 675.0,85.0 C685.0,83.7 681.3,84.6 690.0,84.2 C698.7,83.8 694.4,84.6 701.2,83.9 C708.0,83.2 703.9,83.1 710.5,82.1 C717.1,81.1 714.7,81.6 720.9,81.0 C727.1,80.4 723.9,80.5 729.1,80.3 C734.3,80.1 730.5,80.3 736.4,80.5 C742.3,80.7 743.3,80.8 746.7,81.0" fill="none" stroke="#ff0808" stroke-width="1.2"/>
<rect x="457" y="57" width="294" height="5" fill="#ff0000"/>
<rect x="465" y="112" width="286" height="5" fill="#008000"/>
<clipPath id="cf"><rect x="0" y="21" width="800" height="200"/></clipPath>
<g clip-path="url(#cf)" fill="none" stroke="#ff0000" stroke-width="2" stroke-linecap="butt">
<circle cx="598.7" cy="38.2" r="17.8" stroke-width="1.9"/>
<path d="M587.8,46.9A10.3,10.3 0 0 1 608.4,46.9"/>
<circle cx="590.1" cy="30.1" r="2" fill="#ff0000" stroke="none"/>
<circle cx="606.1" cy="30.1" r="2" fill="#ff0000" stroke="none"/>
<circle cx="649.7" cy="38.2" r="17.8" stroke-width="1.9"/>
<path d="M638.8,46.9A10.3,10.3 0 0 1 659.4,46.9"/>
<circle cx="641.1" cy="30.1" r="2" fill="#ff0000" stroke="none"/>
<circle cx="657.1" cy="30.1" r="2" fill="#ff0000" stroke="none"/>
<circle cx="732.1" cy="38.2" r="17.8" stroke-width="1.9"/>
<path d="M721.2,46.9A10.3,10.3 0 0 1 741.8,46.9"/>
<circle cx="723.5" cy="30.1" r="2" fill="#ff0000" stroke="none"/>
<circle cx="739.5" cy="30.1" r="2" fill="#ff0000" stroke="none"/>
</g>
<g fill="none" stroke="#008000" stroke-width="2">
<circle cx="531.8" cy="134.5" r="17.8" stroke-width="1.9"/>
<path d="M521.5,134.1A10.3,10.3 0 0 0 542.1,134.1"/>
<circle cx="523.8" cy="126.1" r="2" fill="#008000" stroke="none"/>
<circle cx="539.8" cy="126.1" r="2" fill="#008000" stroke="none"/>
<circle cx="576.2" cy="135.1" r="17.8" stroke-width="1.9"/>
<path d="M565.9,134.7A10.3,10.3 0 0 0 586.5,134.7"/>
<circle cx="568.2" cy="126.7" r="2" fill="#008000" stroke="none"/>
<circle cx="584.2" cy="126.7" r="2" fill="#008000" stroke="none"/>
<circle cx="696.2" cy="136.2" r="17.8" stroke-width="1.9"/>
<path d="M685.9,135.8A10.3,10.3 0 0 0 706.5,135.8"/>
<circle cx="688.2" cy="127.8" r="2" fill="#008000" stroke="none"/>
<circle cx="704.2" cy="127.8" r="2" fill="#008000" stroke="none"/>
</g>
<path d="M19.5,272.6 C19.7,271.0 18.9,268.8 20.1,267.8 C21.3,266.7 21.1,266.0 23.1,269.6 C25.1,273.1 23.8,272.1 26.0,278.4 C28.2,284.6 27.1,282.7 29.6,288.4 C32.1,294.1 31.2,293.8 33.6,295.4 C36.0,297.1 33.7,295.1 36.7,293.4 C39.7,291.7 38.3,290.6 42.6,290.4 C46.9,290.3 45.3,292.4 49.7,293.0 C54.1,293.5 51.7,294.1 55.7,292.1 C59.7,290.2 58.0,289.8 61.6,287.1 C65.2,284.5 62.8,284.9 66.4,284.2 C70.0,283.5 68.8,286.2 72.3,285.1 C75.8,284.0 73.4,285.2 77.0,280.9 C80.6,276.5 79.4,277.1 83.0,272.1 C86.6,267.0 84.9,268.0 87.7,265.7 C90.5,263.4 88.5,264.4 91.3,265.2 C94.1,266.1 92.4,264.9 96.0,268.3 C99.6,271.6 98.4,271.9 102.0,275.3 C105.6,278.6 103.9,276.9 106.7,278.4 C109.5,279.8 107.5,280.5 110.3,279.6 C113.1,278.8 111.8,278.3 115.0,275.8 C118.2,273.3 116.6,274.2 119.8,272.1 C123.0,270.0 121.3,272.1 124.5,269.6 C127.7,267.0 126.1,267.3 129.3,264.5 C132.5,261.7 131.2,262.3 134.0,261.2 C136.8,260.1 134.8,260.5 137.6,261.2 C140.4,261.8 138.7,262.1 142.3,263.2 C145.9,264.3 145.1,262.3 148.3,264.5 C151.5,266.6 149.0,265.1 151.8,269.6 C154.6,274.0 153.0,272.8 156.6,277.8 C160.2,282.8 158.5,280.9 162.5,284.6 C166.5,288.3 164.5,286.4 168.5,288.9 C172.5,291.5 170.6,290.2 174.4,292.1 C178.2,294.0 176.3,294.4 179.9,294.7 C183.5,295.0 181.4,294.4 185.1,293.0 C188.8,291.6 187.1,292.4 191.0,290.4 C194.9,288.5 193.2,290.3 196.7,287.1 C200.2,284.0 198.3,285.1 201.5,280.9 C204.7,276.7 202.6,277.7 206.2,274.5 C209.8,271.4 208.2,273.0 212.2,271.4 C216.2,269.7 214.5,271.4 218.1,269.6 C221.7,267.7 219.7,267.2 222.9,265.7 C226.1,264.3 224.4,264.5 227.6,265.2 C230.8,265.9 229.2,265.5 232.4,267.8 C235.6,270.0 233.9,268.1 237.1,272.1 C240.3,276.1 239.1,275.0 241.9,279.6 C244.7,284.2 242.6,282.5 245.4,285.9 C248.2,289.2 247.0,287.1 250.2,289.7 C253.4,292.2 251.7,291.0 254.9,293.5 C258.1,296.0 256.5,294.5 259.7,297.2 C262.9,299.9 261.2,299.2 264.4,301.6 C267.6,303.9 266.0,303.8 269.2,304.3 C272.4,304.8 270.7,304.6 273.9,303.0 C277.1,301.5 275.5,302.3 278.7,299.8 C281.9,297.3 279.8,297.6 283.4,295.5 C287.0,293.4 285.8,294.9 289.4,293.5 C293.0,292.2 290.9,293.2 294.1,291.5 C297.3,289.8 295.7,289.6 298.9,288.4 C302.1,287.2 300.4,289.2 303.6,287.9 C306.8,286.6 305.6,285.7 308.4,284.6 C311.2,283.5 309.5,283.3 311.9,284.6 C314.3,285.9 312.3,286.1 315.5,288.4 C318.7,290.7 318.2,290.8 321.4,291.5 C324.6,292.2 322.2,292.3 325.0,290.4 C327.8,288.6 326.5,289.2 329.7,285.9 C332.9,282.5 331.3,284.1 334.5,280.4 C337.7,276.6 336.0,278.7 339.2,274.5 C342.4,270.3 341.2,271.5 344.0,267.8 C346.8,264.0 344.8,265.0 347.6,263.2 C350.4,261.4 349.1,262.3 352.3,262.4 C355.5,262.6 353.5,262.4 357.1,263.7 C360.7,265.0 359.1,265.2 363.0,266.3 C366.9,267.4 365.3,267.4 368.9,267.0 C372.5,266.7 370.5,266.3 373.7,265.2 C376.9,264.1 375.3,264.0 378.4,263.7 C381.5,263.5 379.4,263.4 382.9,264.5 C386.4,265.6 384.9,266.2 388.9,267.0 C392.9,267.9 390.9,267.4 394.8,267.0 C398.7,266.6 396.7,266.8 400.7,265.7 C404.7,264.6 403.1,264.1 406.7,263.7 C410.3,263.3 408.6,262.5 411.4,264.5 C414.2,266.4 412.2,265.8 415.0,269.6 C417.8,273.3 416.9,272.2 419.7,275.8 C422.5,279.4 420.9,279.9 423.3,280.4 C425.7,280.8 424.5,280.3 426.9,277.1 C429.3,273.9 428.0,274.4 430.4,270.8 C432.8,267.2 431.6,267.1 434.0,266.3 C436.4,265.4 434.7,268.5 437.5,268.3 C440.3,268.1 439.1,267.8 442.3,265.7 C445.5,263.7 443.8,264.5 447.0,262.0 C450.2,259.5 448.6,260.3 451.8,258.2 C455.0,256.1 453.1,256.8 456.5,255.7 C459.9,254.6 458.4,254.3 462.0,254.9 C465.6,255.6 463.5,255.3 467.2,257.7 C470.9,260.0 469.1,259.2 473.1,262.0 C477.1,264.9 475.5,262.9 479.1,266.3 C482.7,269.6 480.6,267.9 483.8,272.1 C487.0,276.3 485.4,274.7 488.6,278.9 C491.8,283.0 490.7,282.3 493.3,284.6 C495.9,286.9 494.4,286.7 496.4,285.9 C498.4,285.1 497.2,286.4 499.3,282.2 C501.4,278.0 500.4,278.6 502.8,273.3 C505.2,268.0 504.0,269.6 506.4,266.3 C508.8,262.9 507.2,264.4 510.0,263.2 C512.8,262.0 511.5,262.3 514.7,262.8 C517.9,263.2 515.9,263.3 519.5,264.5 C523.1,265.6 521.5,264.8 525.4,266.3 C529.3,267.7 527.3,267.3 531.3,268.8 C535.3,270.3 533.3,270.6 537.3,270.8 C541.3,271.1 540.0,270.6 543.2,269.6 C546.4,268.5 544.0,267.8 546.8,267.8 C549.6,267.8 548.7,266.9 551.5,269.6 C554.3,272.2 552.7,271.2 555.1,275.8 C557.5,280.4 556.3,279.1 558.7,283.3 C561.1,287.5 559.1,285.6 562.2,288.4 C565.3,291.2 564.8,292.1 567.9,291.7 C571.0,291.3 568.7,291.2 571.5,287.1 C574.3,283.1 573.1,285.1 576.3,279.6 C579.5,274.2 577.8,275.9 581.0,270.8 C584.2,265.8 582.6,267.8 585.8,264.5 C589.0,261.1 587.3,262.8 590.5,260.8 C593.7,258.7 591.7,259.4 595.3,258.2 C598.9,257.0 597.7,257.1 601.2,257.3 C604.7,257.4 602.7,257.2 605.9,258.7 C609.1,260.3 607.1,259.3 610.7,262.0 C614.3,264.8 613.0,262.8 616.6,267.0 C620.2,271.2 618.2,269.5 621.4,274.5 C624.6,279.6 622.9,277.4 626.1,282.2 C629.3,287.0 628.1,285.3 630.9,288.9 C633.7,292.6 632.0,291.5 634.4,293.0 C636.8,294.5 635.2,294.6 638.0,293.5 C640.8,292.4 639.6,292.4 642.8,289.7 C646.0,287.0 644.3,286.5 647.5,285.5 C650.7,284.4 649.1,285.2 652.3,286.4 C655.5,287.6 653.8,287.3 657.0,288.9 C660.2,290.6 658.6,291.2 661.8,291.5 C665.0,291.7 663.3,291.1 666.5,289.7 C669.7,288.2 668.1,288.0 671.3,287.1 C674.5,286.3 673.2,286.5 676.0,287.1 C678.8,287.7 677.2,286.8 679.6,288.9 C682.0,291.1 680.7,290.8 683.1,293.5 C685.5,296.3 684.3,295.7 686.7,297.2 C689.1,298.7 687.5,298.5 690.3,298.0 C693.1,297.4 692.2,297.9 695.0,295.5 C697.8,293.2 695.8,294.6 698.6,291.0 C701.4,287.3 700.1,288.8 703.3,284.6 C706.5,280.4 704.9,282.1 708.1,278.4 C711.3,274.6 709.6,276.4 712.8,273.3 C716.0,270.1 714.4,271.7 717.6,268.8 C720.8,265.9 719.5,267.1 722.3,264.5 C725.1,261.8 723.5,262.2 725.9,260.8 C728.3,259.3 726.7,259.9 729.5,260.0 C732.3,260.2 731.0,259.4 734.2,261.2 C737.4,262.9 736.2,263.3 739.0,265.2 C741.8,267.1 741.3,266.4 742.5,267.0" fill="none" stroke="#787878" stroke-width="1.05"/>
<path d="M19.5,272.6 C20.7,271.2 20.9,269.3 23.1,268.5 C25.3,267.7 24.1,266.9 26.1,270.2 C28.1,273.5 26.8,272.6 29.0,278.5 C31.2,284.4 30.1,282.6 32.6,288.0 C35.1,293.4 34.2,293.0 36.6,294.6 C39.0,296.2 36.7,294.3 39.7,292.7 C42.7,291.1 41.3,290.0 45.6,289.9 C49.9,289.8 48.3,291.8 52.7,292.3 C57.1,292.8 54.7,293.3 58.7,291.5 C62.7,289.7 61.0,289.3 64.6,286.8 C68.2,284.3 65.8,284.6 69.4,284.0 C73.0,283.4 71.8,285.9 75.3,284.9 C78.8,283.9 76.4,285.0 80.0,280.9 C83.6,276.8 82.4,277.4 86.0,272.6 C89.6,267.8 87.9,268.8 90.7,266.6 C93.5,264.4 91.5,265.3 94.3,266.1 C97.1,266.9 95.4,265.8 99.0,269.0 C102.6,272.2 101.4,272.4 105.0,275.6 C108.6,278.8 106.9,277.1 109.7,278.5 C112.5,279.9 110.5,280.5 113.3,279.7 C116.1,278.9 114.8,278.5 118.0,276.1 C121.2,273.7 119.6,274.6 122.8,272.6 C126.0,270.6 124.3,272.6 127.5,270.2 C130.7,267.8 129.1,268.0 132.3,265.4 C135.5,262.8 134.2,263.3 137.0,262.3 C139.8,261.3 137.8,261.7 140.6,262.3 C143.4,262.9 141.7,263.2 145.3,264.2 C148.9,265.2 148.1,263.4 151.3,265.4 C154.5,267.4 152.0,266.0 154.8,270.2 C157.6,274.4 156.0,273.3 159.6,278.0 C163.2,282.7 161.5,280.9 165.5,284.4 C169.5,287.9 167.5,286.1 171.5,288.5 C175.5,290.9 173.6,289.7 177.4,291.5 C181.2,293.3 179.3,293.6 182.9,293.9 C186.5,294.2 184.4,293.6 188.1,292.3 C191.8,291.0 190.1,291.7 194.0,289.9 C197.9,288.1 196.2,289.8 199.7,286.8 C203.2,283.8 201.3,284.9 204.5,280.9 C207.7,276.9 205.6,277.9 209.2,274.9 C212.8,271.9 211.2,273.5 215.2,271.9 C219.2,270.3 217.5,272.0 221.1,270.2 C224.7,268.4 222.7,268.0 225.9,266.6 C229.1,265.2 227.4,265.5 230.6,266.1 C233.8,266.7 232.2,266.3 235.4,268.5 C238.6,270.7 236.9,268.9 240.1,272.6 C243.3,276.3 242.1,275.4 244.9,279.7 C247.7,284.0 245.6,282.4 248.4,285.6 C251.2,288.8 250.0,286.8 253.2,289.2 C256.4,291.6 254.7,290.4 257.9,292.8 C261.1,295.2 259.5,293.8 262.7,296.3 C265.9,298.8 264.2,298.2 267.4,300.4 C270.6,302.6 269.0,302.5 272.2,303.0 C275.4,303.5 273.7,303.2 276.9,301.8 C280.1,300.4 278.5,301.1 281.7,298.7 C284.9,296.3 282.8,296.7 286.4,294.7 C290.0,292.7 288.8,294.1 292.4,292.8 C296.0,291.5 293.9,292.5 297.1,290.9 C300.3,289.3 298.7,289.1 301.9,288.0 C305.1,286.9 303.4,288.7 306.6,287.5 C309.8,286.3 308.6,285.4 311.4,284.4 C314.2,283.4 312.5,283.2 314.9,284.4 C317.3,285.6 315.3,285.8 318.5,288.0 C321.7,290.2 321.2,290.3 324.4,290.9 C327.6,291.5 325.2,291.7 328.0,289.9 C330.8,288.1 329.5,288.8 332.7,285.6 C335.9,282.4 334.3,284.0 337.5,280.4 C340.7,276.8 339.0,278.9 342.2,274.9 C345.4,270.9 344.2,272.1 347.0,268.5 C349.8,264.9 347.8,265.9 350.6,264.2 C353.4,262.5 352.1,263.3 355.3,263.5 C358.5,263.7 356.5,263.5 360.1,264.7 C363.7,265.9 362.1,266.1 366.0,267.1 C369.9,268.1 368.3,268.1 371.9,267.8 C375.5,267.5 373.5,267.1 376.7,266.1 C379.9,265.1 378.3,264.9 381.4,264.7 C384.5,264.5 382.4,264.4 385.9,265.4 C389.4,266.4 387.9,267.0 391.9,267.8 C395.9,268.6 393.9,268.2 397.8,267.8 C401.7,267.4 399.7,267.6 403.7,266.6 C407.7,265.6 406.1,265.1 409.7,264.7 C413.3,264.3 411.6,263.6 414.4,265.4 C417.2,267.2 415.2,266.6 418.0,270.2 C420.8,273.8 419.9,272.7 422.7,276.1 C425.5,279.5 423.9,280.0 426.3,280.4 C428.7,280.8 427.5,280.3 429.9,277.3 C432.3,274.3 431.0,274.8 433.4,271.4 C435.8,268.0 434.6,267.9 437.0,267.1 C439.4,266.3 437.7,269.2 440.5,269.0 C443.3,268.8 442.1,268.6 445.3,266.6 C448.5,264.6 446.8,265.5 450.0,263.1 C453.2,260.7 451.6,261.5 454.8,259.5 C458.0,257.5 456.1,258.1 459.5,257.1 C462.9,256.1 461.4,255.8 465.0,256.4 C468.6,257.0 466.5,256.8 470.2,259.0 C473.9,261.2 472.1,260.4 476.1,263.1 C480.1,265.8 478.5,263.9 482.1,267.1 C485.7,270.3 483.6,268.6 486.8,272.6 C490.0,276.6 488.4,275.1 491.6,279.0 C494.8,282.9 493.7,282.2 496.3,284.4 C498.9,286.6 497.4,286.4 499.4,285.6 C501.4,284.8 500.2,286.1 502.3,282.1 C504.4,278.1 503.4,278.7 505.8,273.7 C508.2,268.7 507.0,270.3 509.4,267.1 C511.8,263.9 510.2,265.3 513.0,264.2 C515.8,263.1 514.5,263.4 517.7,263.8 C520.9,264.2 518.9,264.3 522.5,265.4 C526.1,266.5 524.5,265.7 528.4,267.1 C532.3,268.5 530.3,268.1 534.3,269.5 C538.3,270.9 536.3,271.2 540.3,271.4 C544.3,271.6 543.0,271.2 546.2,270.2 C549.4,269.2 547.0,268.5 549.8,268.5 C552.6,268.5 551.7,267.7 554.5,270.2 C557.3,272.7 555.7,271.8 558.1,276.1 C560.5,280.4 559.3,279.2 561.7,283.2 C564.1,287.2 562.1,285.4 565.2,288.0 C568.3,290.6 567.8,291.5 570.9,291.1 C574.0,290.7 571.7,290.6 574.5,286.8 C577.3,283.0 576.1,284.8 579.3,279.7 C582.5,274.6 580.8,276.2 584.0,271.4 C587.2,266.6 585.6,268.6 588.8,265.4 C592.0,262.2 590.3,263.9 593.5,261.9 C596.7,259.9 594.7,260.6 598.3,259.5 C601.9,258.4 600.7,258.4 604.2,258.6 C607.7,258.8 605.7,258.5 608.9,260.0 C612.1,261.5 610.1,260.5 613.7,263.1 C617.3,265.7 616.0,263.9 619.6,267.8 C623.2,271.7 621.2,270.1 624.4,274.9 C627.6,279.7 625.9,277.6 629.1,282.1 C632.3,286.6 631.1,285.1 633.9,288.5 C636.7,291.9 635.0,290.9 637.4,292.3 C639.8,293.7 638.2,293.8 641.0,292.8 C643.8,291.8 642.6,291.7 645.8,289.2 C649.0,286.7 647.3,286.2 650.5,285.2 C653.7,284.2 652.1,285.0 655.3,286.1 C658.5,287.2 656.8,286.9 660.0,288.5 C663.2,290.1 661.6,290.7 664.8,290.9 C668.0,291.1 666.3,290.6 669.5,289.2 C672.7,287.8 671.1,287.6 674.3,286.8 C677.5,286.0 676.2,286.2 679.0,286.8 C681.8,287.4 680.2,286.5 682.6,288.5 C685.0,290.5 683.7,290.2 686.1,292.8 C688.5,295.4 687.3,294.9 689.7,296.3 C692.1,297.7 690.5,297.5 693.3,297.0 C696.1,296.5 695.2,296.9 698.0,294.7 C700.8,292.5 698.8,293.8 701.6,290.4 C704.4,287.0 703.1,288.4 706.3,284.4 C709.5,280.4 707.9,282.1 711.1,278.5 C714.3,274.9 712.6,276.7 715.8,273.7 C719.0,270.7 717.4,272.3 720.6,269.5 C723.8,266.7 722.5,267.9 725.3,265.4 C728.1,262.9 726.5,263.3 728.9,261.9 C731.3,260.5 729.7,261.1 732.5,261.2 C735.3,261.3 734.0,260.7 737.2,262.3 C740.4,263.9 739.2,264.3 742.0,266.1 C744.8,267.9 744.3,267.2 745.5,267.8" fill="none" stroke="#ff0000" stroke-width="1.2" stroke-linejoin="round"/>
<path d="M19.0,355.2 L21.9,315.6 L24.3,323.9 L26.6,373.8 L29.5,381.4 L33.0,382.8 L36.1,378.5 L37.8,364.7 L42.1,367.8 L46.8,373.0 L50.4,369.0 L52.8,367.8 L57.5,361.9 L61.1,357.8 L64.2,357.1 L65.8,361.9 L68.9,363.1 L72.2,369.0 L75.3,363.8 L78.9,355.9 L82.4,353.6 L85.5,349.5 L88.9,349.5 L91.2,354.3 L94.3,355.2 L99.8,360.7 L103.1,359.0 L107.4,360.0 L111.4,360.7 L113.8,350.5 L116.9,350.0 L121.2,351.9 L125.2,351.9 L128.1,348.1 L130.7,348.8 L133.0,346.9 L137.1,350.5 L141.8,352.9 L143.7,348.8 L146.6,352.4 L149.4,351.9 L153.2,357.1 L158.5,356.7 L163.2,354.8 L166.8,355.9 L168.7,362.6 L173.9,361.4 L178.2,364.7 L182.9,360.2 L187.7,360.2 L191.7,358.8 L193.6,362.4 L196.5,357.1 L198.5,356.0 L202.1,355.2 L205.7,351.9 L210.4,355.2 L215.2,353.6 L219.9,352.9 L224.7,347.6 L228.3,350.7 L235.4,350.7 L238.9,355.5 L242.0,358.8 L244.9,357.8 L247.3,359.0 L250.1,354.8 L253.2,356.7 L257.2,357.1 L259.1,360.7 L261.5,367.8 L264.4,372.6 L267.0,375.0 L269.8,371.4 L272.2,372.6 L274.6,364.7 L277.7,365.4 L280.5,360.7 L283.4,361.9 L286.0,365.0 L288.8,363.1 L291.9,358.8 L296.0,361.2 L301.9,363.8 L306.7,361.4 L310.2,360.7 L313.8,363.1 L317.3,365.4 L320.9,364.7 L325.2,363.8 L328.0,360.2 L334.0,360.2 L337.0,361.2 L338.7,356.7 L342.3,357.1 L345.8,354.3 L348.2,352.4 L351.8,355.2 L355.3,353.6 L358.9,354.8 L362.0,357.1 L364.4,353.6 L368.4,353.6 L370.8,352.9 L373.2,355.2 L375.5,348.1 L378.4,346.4 L381.5,347.1 L383.6,350.7 L385.9,349.5 L393.1,349.5 L397.1,347.2 L400.9,347.6 L403.0,351.9 L406.1,348.8 L409.2,347.6 L412.1,350.7 L415.2,351.9 L418.0,354.3 L422.8,354.3 L426.3,350.5 L430.4,347.2 L434.2,345.7 L437.0,349.5 L439.9,350.5 L442.2,344.8 L446.5,342.9 L451.3,341.2 L454.8,340.0 L459.6,341.0 L462.4,341.0 L465.0,339.3 L467.2,346.0 L469.8,347.6 L472.6,343.6 L475.7,348.8 L479.8,347.6 L484.5,349.5 L490.5,350.0 L494.0,350.7 L498.1,349.5 L501.1,341.7 L504.0,337.4 L507.1,338.1 L510.6,340.0 L514.9,341.2 L517.8,341.2 L520.1,344.8 L523.2,345.7 L526.1,343.6 L529.2,345.7 L532.0,345.7 L534.4,348.8 L536.8,346.0 L539.6,346.9 L542.7,343.6 L546.3,342.9 L549.8,342.9 L551.5,345.2 L554.6,350.5 L557.0,353.6 L560.5,352.4 L564.1,352.9 L567.6,351.9 L569.8,351.2 L574.5,346.4 L578.8,346.9 L584.0,342.9 L587.6,343.6 L592.3,342.9 L597.1,338.1 L604.2,338.8 L608.9,343.6 L613.7,346.0 L617.7,345.7 L620.8,349.3 L626.8,349.5 L631.5,355.2 L636.3,351.9 L642.2,346.9 L647.0,350.0 L650.5,348.8 L653.6,356.7 L656.4,352.9 L659.3,354.8 L662.4,352.9 L664.8,353.6 L668.3,350.5 L673.1,350.7 L676.2,357.1 L678.5,352.9 L681.9,360.7 L685.7,361.4 L688.0,361.9 L690.4,360.0 L693.3,361.9 L696.1,356.7 L699.2,358.3 L702.8,354.8 L707.5,353.6 L712.3,354.0 L715.1,351.9 L718.2,352.9 L723.0,349.5 L727.7,347.6 L731.3,349.5 L735.5,353.1 L739.6,351.9 L745.5,349.3" fill="none" stroke="#2a14a8" stroke-width="1.1"/>
<g shape-rendering="crispEdges">
<rect x="18" y="472" width="2" height="5" fill="#3cb53c"/>
<rect x="21" y="455" width="2" height="22" fill="#3cb53c"/>
<rect x="24" y="455" width="2" height="22" fill="#ff4040"/>
<rect x="26" y="418" width="2" height="59" fill="#ff4040"/>
<rect x="29" y="423" width="2" height="54" fill="#ff4040"/>
<rect x="32" y="450" width="2" height="27" fill="#ff4040"/>
<rect x="35" y="448" width="2" height="29" fill="#3cb53c"/>
<rect x="37" y="452" width="2" height="25" fill="#3cb53c"/>
<rect x="40" y="452" width="2" height="25" fill="#ff4040"/>
<rect x="43" y="458" width="2" height="19" fill="#ff4040"/>
<rect x="46" y="455" width="2" height="22" fill="#ff4040"/>
<rect x="49" y="462" width="2" height="15" fill="#3cb53c"/>
<rect x="51" y="464" width="2" height="13" fill="#3cb53c"/>
<rect x="54" y="461" width="2" height="16" fill="#3cb53c"/>
<rect x="57" y="462" width="2" height="15" fill="#3cb53c"/>
<rect x="60" y="456" width="2" height="21" fill="#3cb53c"/>
<rect x="63" y="462" width="2" height="15" fill="#3cb53c"/>
<rect x="65" y="460" width="2" height="17" fill="#ff4040"/>
<rect x="68" y="460" width="2" height="17" fill="#ff4040"/>
<rect x="71" y="452" width="2" height="25" fill="#ff4040"/>
<rect x="74" y="437" width="2" height="40" fill="#3cb53c"/>
<rect x="76" y="452" width="2" height="25" fill="#3cb53c"/>
<rect x="79" y="452" width="2" height="25" fill="#3cb53c"/>
<rect x="82" y="443" width="2" height="34" fill="#3cb53c"/>
<rect x="85" y="446" width="2" height="31" fill="#3cb53c"/>
<rect x="88" y="453" width="2" height="24" fill="#ff4040"/>
<rect x="90" y="457" width="2" height="20" fill="#ff4040"/>
<rect x="93" y="453" width="2" height="24" fill="#ff4040"/>
<rect x="96" y="452" width="2" height="25" fill="#ff4040"/>
<rect x="99" y="433" width="2" height="44" fill="#ff4040"/>
<rect x="101" y="468" width="2" height="9" fill="#3cb53c"/>
<rect x="104" y="471" width="2" height="6" fill="#ff4040"/>
<rect x="107" y="458" width="2" height="19" fill="#ff4040"/>
<rect x="110" y="459" width="2" height="18" fill="#ff4040"/>
<rect x="113" y="435" width="2" height="42" fill="#3cb53c"/>
<rect x="115" y="450" width="2" height="27" fill="#3cb53c"/>
<rect x="118" y="455" width="2" height="22" fill="#ff4040"/>
<rect x="121" y="461" width="2" height="16" fill="#ff4040"/>
<rect x="124" y="458" width="2" height="19" fill="#ff4040"/>
<rect x="127" y="455" width="2" height="22" fill="#3cb53c"/>
<rect x="129" y="455" width="2" height="22" fill="#ff4040"/>
<rect x="132" y="455" width="2" height="22" fill="#3cb53c"/>
<rect x="135" y="452" width="2" height="25" fill="#ff4040"/>
<rect x="138" y="462" width="2" height="15" fill="#ff4040"/>
<rect x="140" y="464" width="2" height="13" fill="#ff4040"/>
<rect x="143" y="466" width="2" height="11" fill="#3cb53c"/>
<rect x="146" y="455" width="2" height="22" fill="#ff4040"/>
<rect x="149" y="455" width="2" height="22" fill="#3cb53c"/>
<rect x="152" y="460" width="2" height="17" fill="#ff4040"/>
<rect x="154" y="448" width="2" height="29" fill="#3cb53c"/>
<rect x="157" y="458" width="2" height="19" fill="#ff4040"/>
<rect x="160" y="458" width="2" height="19" fill="#3cb53c"/>
<rect x="163" y="459" width="2" height="18" fill="#3cb53c"/>
<rect x="165" y="456" width="2" height="21" fill="#ff4040"/>
<rect x="168" y="425" width="2" height="52" fill="#ff4040"/>
<rect x="171" y="450" width="2" height="27" fill="#3cb53c"/>
<rect x="174" y="450" width="2" height="27" fill="#3cb53c"/>
<rect x="177" y="449" width="2" height="28" fill="#ff4040"/>
<rect x="179" y="454" width="2" height="23" fill="#3cb53c"/>
<rect x="182" y="455" width="2" height="22" fill="#3cb53c"/>
<rect x="185" y="449" width="2" height="28" fill="#ff4040"/>
<rect x="188" y="453" width="2" height="24" fill="#ff4040"/>
<rect x="191" y="465" width="2" height="12" fill="#3cb53c"/>
<rect x="193" y="461" width="2" height="16" fill="#ff4040"/>
<rect x="196" y="446" width="2" height="31" fill="#3cb53c"/>
<rect x="199" y="442" width="2" height="35" fill="#3cb53c"/>
<rect x="202" y="449" width="2" height="28" fill="#3cb53c"/>
<rect x="204" y="430" width="2" height="47" fill="#3cb53c"/>
<rect x="207" y="456" width="2" height="21" fill="#ff4040"/>
<rect x="210" y="452" width="2" height="25" fill="#ff4040"/>
<rect x="213" y="455" width="2" height="22" fill="#3cb53c"/>
<rect x="216" y="459" width="2" height="18" fill="#3cb53c"/>
<rect x="218" y="464" width="2" height="13" fill="#3cb53c"/>
<rect x="221" y="460" width="2" height="17" fill="#3cb53c"/>
<rect x="224" y="454" width="2" height="23" fill="#3cb53c"/>
<rect x="227" y="425" width="2" height="52" fill="#ff4040"/>
<rect x="230" y="461" width="2" height="16" fill="#ff4040"/>
<rect x="232" y="459" width="2" height="18" fill="#ff4040"/>
<rect x="235" y="464" width="2" height="13" fill="#3cb53c"/>
<rect x="238" y="458" width="2" height="19" fill="#ff4040"/>
<rect x="241" y="455" width="2" height="22" fill="#ff4040"/>
<rect x="243" y="453" width="2" height="24" fill="#3cb53c"/>
<rect x="246" y="464" width="2" height="13" fill="#ff4040"/>
<rect x="249" y="469" width="2" height="8" fill="#3cb53c"/>
<rect x="252" y="450" width="2" height="27" fill="#ff4040"/>
<rect x="255" y="436" width="2" height="41" fill="#ff4040"/>
<rect x="257" y="464" width="2" height="13" fill="#ff4040"/>
<rect x="260" y="427" width="2" height="50" fill="#ff4040"/>
<rect x="263" y="448" width="2" height="29" fill="#ff4040"/>
<rect x="266" y="445" width="2" height="32" fill="#ff4040"/>
<rect x="268" y="453" width="2" height="24" fill="#3cb53c"/>
<rect x="271" y="460" width="2" height="17" fill="#ff4040"/>
<rect x="274" y="449" width="2" height="28" fill="#3cb53c"/>
<rect x="277" y="452" width="2" height="25" fill="#ff4040"/>
<rect x="280" y="433" width="2" height="44" fill="#3cb53c"/>
<rect x="282" y="459" width="2" height="18" fill="#ff4040"/>
<rect x="285" y="449" width="2" height="28" fill="#ff4040"/>
<rect x="288" y="457" width="2" height="20" fill="#3cb53c"/>
<rect x="291" y="457" width="2" height="20" fill="#3cb53c"/>
<rect x="294" y="458" width="2" height="19" fill="#ff4040"/>
<rect x="296" y="465" width="2" height="12" fill="#ff4040"/>
<rect x="299" y="468" width="2" height="9" fill="#ff4040"/>
<rect x="302" y="460" width="2" height="17" fill="#ff4040"/>
<rect x="305" y="464" width="2" height="13" fill="#3cb53c"/>
<rect x="307" y="466" width="2" height="11" fill="#3cb53c"/>
<rect x="310" y="467" width="2" height="10" fill="#3cb53c"/>
<rect x="313" y="465" width="2" height="12" fill="#ff4040"/>
<rect x="316" y="458" width="2" height="19" fill="#ff4040"/>
<rect x="319" y="456" width="2" height="21" fill="#ff4040"/>
<rect x="321" y="453" width="2" height="24" fill="#3cb53c"/>
<rect x="324" y="465" width="2" height="12" fill="#ff4040"/>
<rect x="327" y="462" width="2" height="15" fill="#3cb53c"/>
<rect x="330" y="467" width="2" height="10" fill="#3cb53c"/>
<rect x="332" y="468" width="2" height="9" fill="#ff4040"/>
<rect x="335" y="467" width="2" height="10" fill="#ff4040"/>
<rect x="338" y="468" width="2" height="9" fill="#3cb53c"/>
<rect x="341" y="469" width="2" height="8" fill="#ff4040"/>
<rect x="344" y="465" width="2" height="12" fill="#3cb53c"/>
<rect x="346" y="460" width="2" height="17" fill="#3cb53c"/>
<rect x="349" y="456" width="2" height="21" fill="#3cb53c"/>
<rect x="352" y="464" width="2" height="13" fill="#ff4040"/>
<rect x="355" y="466" width="2" height="11" fill="#3cb53c"/>
<rect x="358" y="466" width="2" height="11" fill="#ff4040"/>
<rect x="360" y="464" width="2" height="13" fill="#ff4040"/>
<rect x="363" y="464" width="2" height="13" fill="#3cb53c"/>
<rect x="366" y="466" width="2" height="11" fill="#ff4040"/>
<rect x="369" y="466" width="2" height="11" fill="#3cb53c"/>
<rect x="371" y="463" width="2" height="14" fill="#ff4040"/>
<rect x="374" y="441" width="2" height="36" fill="#3cb53c"/>
<rect x="377" y="455" width="2" height="22" fill="#3cb53c"/>
<rect x="380" y="465" width="2" height="12" fill="#3cb53c"/>
<rect x="383" y="458" width="2" height="19" fill="#ff4040"/>
<rect x="385" y="460" width="2" height="17" fill="#3cb53c"/>
<rect x="388" y="462" width="2" height="15" fill="#ff4040"/>
<rect x="391" y="468" width="2" height="9" fill="#ff4040"/>
<rect x="394" y="472" width="2" height="5" fill="#3cb53c"/>
<rect x="396" y="466" width="2" height="11" fill="#3cb53c"/>
<rect x="399" y="463" width="2" height="14" fill="#3cb53c"/>
<rect x="402" y="459" width="2" height="18" fill="#ff4040"/>
<rect x="405" y="462" width="2" height="15" fill="#3cb53c"/>
<rect x="408" y="462" width="2" height="15" fill="#3cb53c"/>
<rect x="410" y="466" width="2" height="11" fill="#ff4040"/>
<rect x="413" y="467" width="2" height="10" fill="#ff4040"/>
<rect x="416" y="466" width="2" height="11" fill="#ff4040"/>
<rect x="419" y="462" width="2" height="15" fill="#3cb53c"/>
<rect x="422" y="468" width="2" height="9" fill="#ff4040"/>
<rect x="424" y="465" width="2" height="12" fill="#3cb53c"/>
<rect x="427" y="461" width="2" height="16" fill="#3cb53c"/>
<rect x="430" y="461" width="2" height="16" fill="#3cb53c"/>
<rect x="433" y="464" width="2" height="13" fill="#3cb53c"/>
<rect x="435" y="458" width="2" height="19" fill="#ff4040"/>
<rect x="438" y="465" width="2" height="12" fill="#ff4040"/>
<rect x="441" y="459" width="2" height="18" fill="#3cb53c"/>
<rect x="444" y="464" width="2" height="13" fill="#3cb53c"/>
<rect x="447" y="457" width="2" height="20" fill="#3cb53c"/>
<rect x="449" y="458" width="2" height="19" fill="#3cb53c"/>
<rect x="452" y="460" width="2" height="17" fill="#3cb53c"/>
<rect x="455" y="465" width="2" height="12" fill="#ff4040"/>
<rect x="458" y="465" width="2" height="12" fill="#ff4040"/>
<rect x="460" y="465" width="2" height="12" fill="#ff4040"/>
<rect x="463" y="464" width="2" height="13" fill="#3cb53c"/>
<rect x="466" y="462" width="2" height="15" fill="#ff4040"/>
<rect x="469" y="465" width="2" height="12" fill="#ff4040"/>
<rect x="472" y="464" width="2" height="13" fill="#3cb53c"/>
<rect x="474" y="464" width="2" height="13" fill="#ff4040"/>
<rect x="477" y="465" width="2" height="12" fill="#3cb53c"/>
<rect x="480" y="465" width="2" height="12" fill="#3cb53c"/>
<rect x="483" y="469" width="2" height="8" fill="#ff4040"/>
<rect x="486" y="469" width="2" height="8" fill="#ff4040"/>
<rect x="488" y="471" width="2" height="6" fill="#3cb53c"/>
<rect x="491" y="468" width="2" height="9" fill="#ff4040"/>
<rect x="494" y="470" width="2" height="7" fill="#3cb53c"/>
<rect x="497" y="468" width="2" height="9" fill="#ff4040"/>
<rect x="499" y="458" width="2" height="19" fill="#3cb53c"/>
<rect x="502" y="435" width="2" height="42" fill="#3cb53c"/>
<rect x="505" y="462" width="2" height="15" fill="#ff4040"/>
<rect x="508" y="465" width="2" height="12" fill="#ff4040"/>
<rect x="511" y="465" width="2" height="12" fill="#ff4040"/>
<rect x="513" y="466" width="2" height="11" fill="#ff4040"/>
<rect x="516" y="467" width="2" height="10" fill="#ff4040"/>
<rect x="519" y="465" width="2" height="12" fill="#ff4040"/>
<rect x="522" y="458" width="2" height="19" fill="#ff4040"/>
<rect x="525" y="465" width="2" height="12" fill="#3cb53c"/>
<rect x="527" y="468" width="2" height="9" fill="#ff4040"/>
<rect x="530" y="468" width="2" height="9" fill="#3cb53c"/>
<rect x="533" y="468" width="2" height="9" fill="#ff4040"/>
<rect x="536" y="467" width="2" height="10" fill="#3cb53c"/>
<rect x="538" y="474" width="2" height="3" fill="#ff4040"/>
<rect x="541" y="468" width="2" height="9" fill="#3cb53c"/>
<rect x="544" y="469" width="2" height="8" fill="#ff4040"/>
<rect x="547" y="462" width="2" height="15" fill="#3cb53c"/>
<rect x="550" y="469" width="2" height="8" fill="#ff4040"/>
<rect x="552" y="464" width="2" height="13" fill="#ff4040"/>
<rect x="555" y="460" width="2" height="17" fill="#ff4040"/>
<rect x="558" y="461" width="2" height="16" fill="#3cb53c"/>
<rect x="561" y="468" width="2" height="9" fill="#3cb53c"/>
<rect x="563" y="465" width="2" height="12" fill="#ff4040"/>
<rect x="566" y="468" width="2" height="9" fill="#3cb53c"/>
<rect x="569" y="465" width="2" height="12" fill="#3cb53c"/>
<rect x="572" y="459" width="2" height="18" fill="#3cb53c"/>
<rect x="575" y="464" width="2" height="13" fill="#3cb53c"/>
<rect x="577" y="468" width="2" height="9" fill="#ff4040"/>
<rect x="580" y="468" width="2" height="9" fill="#3cb53c"/>
<rect x="583" y="467" width="2" height="10" fill="#3cb53c"/>
<rect x="586" y="466" width="2" height="11" fill="#ff4040"/>
<rect x="589" y="468" width="2" height="9" fill="#3cb53c"/>
<rect x="591" y="469" width="2" height="8" fill="#3cb53c"/>
<rect x="594" y="459" width="2" height="18" fill="#3cb53c"/>
<rect x="597" y="465" width="2" height="12" fill="#3cb53c"/>
<rect x="600" y="464" width="2" height="13" fill="#ff4040"/>
<rect x="602" y="466" width="2" height="11" fill="#3cb53c"/>
<rect x="605" y="462" width="2" height="15" fill="#ff4040"/>
<rect x="608" y="465" width="2" height="12" fill="#ff4040"/>
<rect x="611" y="463" width="2" height="14" fill="#ff4040"/>
<rect x="614" y="466" width="2" height="11" fill="#ff4040"/>
<rect x="616" y="465" width="2" height="12" fill="#3cb53c"/>
<rect x="619" y="461" width="2" height="16" fill="#ff4040"/>
<rect x="622" y="467" width="2" height="10" fill="#ff4040"/>
<rect x="625" y="469" width="2" height="8" fill="#3cb53c"/>
<rect x="627" y="469" width="2" height="8" fill="#3cb53c"/>
<rect x="630" y="468" width="2" height="9" fill="#ff4040"/>
<rect x="633" y="471" width="2" height="6" fill="#3cb53c"/>
<rect x="636" y="471" width="2" height="6" fill="#3cb53c"/>
<rect x="639" y="468" width="2" height="9" fill="#3cb53c"/>
<rect x="641" y="465" width="2" height="12" fill="#3cb53c"/>
<rect x="644" y="464" width="2" height="13" fill="#ff4040"/>
<rect x="647" y="468" width="2" height="9" fill="#ff4040"/>
<rect x="650" y="464" width="2" height="13" fill="#3cb53c"/>
<rect x="653" y="459" width="2" height="18" fill="#ff4040"/>
<rect x="655" y="463" width="2" height="14" fill="#3cb53c"/>
<rect x="658" y="465" width="2" height="12" fill="#3cb53c"/>
<rect x="661" y="467" width="2" height="10" fill="#ff4040"/>
<rect x="664" y="469" width="2" height="8" fill="#3cb53c"/>
<rect x="666" y="458" width="2" height="19" fill="#3cb53c"/>
<rect x="669" y="465" width="2" height="12" fill="#3cb53c"/>
<rect x="672" y="466" width="2" height="11" fill="#ff4040"/>
<rect x="675" y="462" width="2" height="15" fill="#3cb53c"/>
<rect x="678" y="462" width="2" height="15" fill="#3cb53c"/>
<rect x="680" y="458" width="2" height="19" fill="#ff4040"/>
<rect x="683" y="473" width="2" height="4" fill="#ff4040"/>
<rect x="686" y="468" width="2" height="9" fill="#ff4040"/>
<rect x="689" y="459" width="2" height="18" fill="#3cb53c"/>
<rect x="691" y="460" width="2" height="17" fill="#ff4040"/>
<rect x="694" y="457" width="2" height="20" fill="#3cb53c"/>
<rect x="697" y="460" width="2" height="17" fill="#ff4040"/>
<rect x="700" y="458" width="2" height="19" fill="#3cb53c"/>
<rect x="703" y="465" width="2" height="12" fill="#3cb53c"/>
<rect x="705" y="469" width="2" height="8" fill="#3cb53c"/>
<rect x="708" y="468" width="2" height="9" fill="#3cb53c"/>
<rect x="711" y="469" width="2" height="8" fill="#ff4040"/>
<rect x="714" y="468" width="2" height="9" fill="#3cb53c"/>
<rect x="717" y="468" width="2" height="9" fill="#ff4040"/>
<rect x="719" y="470" width="2" height="7" fill="#3cb53c"/>
<rect x="722" y="467" width="2" height="10" fill="#3cb53c"/>
<rect x="725" y="470" width="2" height="7" fill="#3cb53c"/>
<rect x="728" y="472" width="2" height="5" fill="#ff4040"/>
<rect x="730" y="469" width="2" height="8" fill="#ff4040"/>
<rect x="733" y="469" width="2" height="8" fill="#ff4040"/>
<rect x="736" y="464" width="2" height="13" fill="#ff4040"/>
<rect x="739" y="467" width="2" height="10" fill="#3cb53c"/>
<rect x="742" y="466" width="2" height="11" fill="#3cb53c"/>
<rect x="744" y="476" width="2" height="1" fill="#3cb53c"/>
</g>
<path d="M19.0,518.0 L25.4,509.7 L29.5,540.6 L35.7,553.6 L40.9,536.5 L46.8,545.3 L52.8,533.4 L58.7,525.1 L64.2,518.0 L72.2,535.8 L76.5,518.0 L85.5,500.2 L89.1,496.6 L94.3,513.3 L99.8,529.9 L102.6,531.8 L105.0,529.9 L107.9,535.1 L110.9,529.9 L115.7,513.3 L122.1,524.7 L128.8,513.3 L132.8,505.7 L137.1,518.0 L141.8,523.9 L143.7,521.6 L150.1,532.3 L154.9,542.2 L158.5,545.3 L163.9,533.4 L166.8,537.0 L169.1,548.9 L172.2,553.6 L175.6,542.9 L178.6,548.9 L182.2,533.4 L185.8,525.1 L188.6,529.9 L191.7,526.3 L194.1,528.7 L196.9,521.6 L199.8,528.7 L204.5,510.9 L208.1,504.9 L214.0,518.5 L216.9,515.2 L219.9,518.5 L224.7,508.5 L227.8,497.1 L233.0,509.7 L237.8,518.0 L243.7,529.9 L247.3,532.7 L250.8,529.9 L253.7,537.0 L256.3,522.8 L258.7,523.9 L261.5,539.4 L266.3,547.7 L271.5,552.4 L275.8,540.6 L281.0,522.8 L284.8,526.3 L286.4,532.3 L288.8,535.1 L291.9,528.7 L296.0,531.8 L300.7,534.2 L303.6,535.8 L307.8,528.7 L311.4,523.2 L316.1,526.3 L319.7,531.1 L323.3,536.5 L328.0,526.3 L335.1,518.0 L337.5,519.2 L341.1,515.6 L345.8,509.7 L349.9,503.0 L353.0,506.1 L356.0,504.9 L361.3,510.4 L364.8,507.3 L370.3,503.8 L373.1,508.5 L377.9,495.9 L380.5,499.5 L383.6,506.6 L389.0,500.9 L392.4,504.5 L396.6,503.8 L400.9,501.4 L403.0,506.6 L409.0,502.6 L414.4,508.5 L419.9,517.5 L425.1,514.4 L429.4,508.5 L434.2,504.9 L439.9,515.2 L445.3,507.3 L451.3,500.9 L456.0,497.8 L459.6,503.8 L465.0,500.9 L469.8,510.4 L473.1,509.0 L479.3,518.0 L481.7,516.1 L484.0,518.5 L486.9,516.8 L493.5,522.0 L498.8,518.5 L501.6,513.3 L504.0,504.9 L506.4,503.0 L510.2,509.7 L516.6,518.0 L523.0,528.7 L526.1,525.6 L534.4,531.8 L539.1,527.5 L543.9,524.7 L547.5,519.2 L550.5,518.0 L555.3,523.9 L559.3,529.9 L562.4,527.0 L567.9,531.1 L571.7,525.1 L575.7,520.4 L578.8,522.8 L584.0,517.5 L588.8,514.4 L593.0,512.8 L597.1,508.0 L601.1,512.1 L604.2,510.4 L608.2,516.8 L612.5,523.2 L615.4,525.1 L618.4,522.8 L623.2,528.2 L626.3,525.6 L632.7,529.9 L637.4,525.1 L642.2,520.4 L648.1,524.7 L651.0,522.3 L654.1,525.6 L657.2,522.3 L660.0,524.7 L662.9,522.3 L665.9,523.2 L670.7,517.3 L676.2,522.8 L678.5,520.4 L682.6,523.9 L686.1,524.7 L688.0,522.8 L689.7,526.8 L695.2,517.5 L698.0,514.4 L700.9,509.0 L705.1,507.3 L709.9,505.7 L713.5,509.0 L718.2,506.8 L721.8,509.7 L727.7,509.0 L731.3,510.9 L735.5,514.9 L737.9,512.1 L740.3,515.6 L743.2,513.7 L746.0,514.0" fill="none" stroke="#10107a" stroke-width="3" stroke-linejoin="miter"/>
<path d="M19.0,518.7 C21.1,518.1 21.3,515.1 25.4,516.8 C29.5,518.5 27.0,519.1 31.4,523.9 C35.8,528.7 33.8,527.7 38.5,531.1 C43.2,534.5 41.2,532.4 45.6,534.2 C50.0,536.0 47.2,536.5 51.6,536.5 C56.0,536.5 54.0,536.6 58.7,534.2 C63.4,531.8 61.3,530.8 65.8,529.4 C70.3,528.0 67.8,531.3 72.2,529.9 C76.6,528.5 74.3,528.7 78.9,525.1 C83.5,521.5 81.7,522.9 86.0,519.2 C90.3,515.5 87.9,515.2 91.9,514.0 C95.9,512.8 93.5,513.3 97.9,515.6 C102.3,517.9 100.7,518.1 105.0,520.9 C109.3,523.7 106.9,523.5 110.9,523.9 C114.9,524.3 112.1,522.6 116.9,522.0 C121.7,521.4 120.1,523.5 125.2,522.0 C130.3,520.5 127.6,519.0 132.3,517.5 C137.0,516.0 134.6,516.9 139.4,517.5 C144.2,518.1 142.2,517.1 146.6,519.2 C151.0,521.3 148.5,520.7 152.5,523.9 C156.5,527.1 154.1,526.3 158.5,528.7 C162.9,531.1 160.9,528.3 165.6,531.1 C170.3,533.9 168.0,534.4 172.7,537.0 C177.4,539.6 175.0,538.9 179.8,538.9 C184.6,538.9 182.2,538.6 187.0,537.0 C191.8,535.4 189.1,536.7 194.1,534.2 C199.1,531.7 197.4,532.8 202.1,529.4 C206.8,526.0 204.1,526.5 208.1,523.9 C212.1,521.3 210.1,522.8 214.0,521.6 C217.9,520.4 215.5,522.4 219.9,520.4 C224.3,518.4 222.3,518.4 227.1,515.6 C231.9,512.8 229.9,512.5 234.2,512.1 C238.5,511.7 235.7,511.6 240.1,514.4 C244.5,517.2 242.9,517.2 247.3,520.4 C251.7,523.6 249.7,522.7 253.2,523.9 C256.7,525.1 254.3,521.9 257.9,523.9 C261.5,525.9 259.5,525.7 263.9,529.9 C268.3,534.1 266.7,534.0 271.0,536.5 C275.3,539.0 272.9,538.1 276.9,537.5 C280.9,536.9 278.5,536.0 282.9,534.6 C287.3,533.2 285.3,534.0 290.0,533.4 C294.7,532.8 292.3,532.7 297.1,532.7 C301.9,532.7 299.5,534.2 304.3,533.4 C309.1,532.6 306.7,531.7 311.4,530.4 C316.1,529.1 314.1,529.4 318.5,529.4 C322.9,529.4 320.1,531.0 324.5,530.4 C328.9,529.8 327.3,529.3 331.6,527.5 C335.9,525.7 333.2,527.1 337.5,525.1 C341.8,523.1 340.2,524.6 344.6,521.6 C349.0,518.6 346.2,519.0 350.6,516.1 C355.0,513.2 353.0,514.5 357.7,512.8 C362.4,511.1 360.0,512.2 364.8,510.9 C369.6,509.6 367.2,510.7 372.0,509.0 C376.8,507.3 374.1,507.1 379.1,505.7 C384.1,504.3 382.0,505.3 387.1,504.9 C392.2,504.5 389.5,504.9 394.3,504.5 C399.1,504.1 396.7,504.0 401.4,503.8 C406.1,503.6 403.8,503.4 408.5,503.8 C413.2,504.2 410.8,503.2 415.6,504.9 C420.4,506.6 418.0,507.6 422.8,509.0 C427.6,510.4 425.2,509.0 429.9,509.0 C434.6,509.0 432.7,508.6 437.0,509.0 C441.3,509.4 438.5,510.5 442.9,510.2 C447.3,509.9 445.3,509.8 450.1,508.0 C454.9,506.2 452.5,506.3 457.2,504.9 C461.9,503.5 459.9,503.5 464.3,503.8 C468.7,504.1 466.7,504.9 470.3,505.7 C473.9,506.5 471.1,504.8 475.0,506.1 C478.9,507.4 477.3,507.7 482.1,509.7 C486.9,511.7 484.5,510.4 489.3,512.1 C494.1,513.8 492.8,513.6 496.4,514.9 C500.0,516.2 496.8,516.8 500.0,516.1 C503.2,515.4 502.4,514.3 505.9,512.8 C509.4,511.3 506.6,511.3 510.6,511.6 C514.6,511.9 513.0,511.7 517.8,513.7 C522.6,515.7 520.2,514.9 524.9,517.5 C529.6,520.1 528.0,519.5 532.0,521.6 C536.0,523.7 532.8,523.1 536.8,523.9 C540.8,524.7 539.2,524.3 543.9,523.9 C548.6,523.5 546.3,523.0 551.0,522.8 C555.7,522.6 553.3,522.4 558.1,523.2 C562.9,524.0 560.6,524.5 565.3,525.1 C570.0,525.7 567.4,525.5 572.1,525.1 C576.8,524.7 574.5,525.1 579.3,523.9 C584.1,522.7 581.7,523.2 586.4,521.6 C591.1,520.0 589.2,521.0 593.5,519.2 C597.8,517.4 595.0,517.7 599.4,516.1 C603.8,514.5 602.2,514.2 606.6,514.4 C611.0,514.6 608.2,515.2 612.5,516.8 C616.8,518.4 614.8,517.6 619.6,519.2 C624.4,520.8 622.0,520.0 626.8,521.6 C631.6,523.2 629.2,523.3 633.9,523.9 C638.6,524.5 636.3,523.5 641.0,523.5 C645.7,523.5 643.3,523.8 648.1,523.9 C652.9,524.0 650.5,523.9 655.3,523.9 C660.1,523.9 657.7,524.4 662.4,523.9 C667.1,523.4 664.8,522.9 669.5,522.3 C674.2,521.7 671.8,521.8 676.6,522.0 C681.4,522.2 679.0,522.5 683.8,522.8 C688.6,523.1 686.2,523.6 690.9,522.8 C695.6,522.0 693.3,522.4 698.0,520.4 C702.7,518.4 700.3,518.9 705.1,516.8 C709.9,514.7 707.5,515.7 712.3,514.0 C717.1,512.3 714.3,512.6 719.4,511.6 C724.5,510.6 722.6,510.9 727.7,510.9 C732.8,510.9 730.0,511.0 734.8,511.6 C739.6,512.2 738.3,512.2 742.0,512.8 C745.7,513.4 744.7,513.1 746.0,513.3" fill="none" stroke="#ff0000" stroke-width="2" stroke-linejoin="round"/>
<rect x="753" y="51" width="47" height="17" fill="#008000"/>
<text x="756.5" y="63.5" fill="#fff">41.52</text>
<rect x="753" y="57" width="47" height="17" fill="#3366ff"/>
<text x="756.5" y="70" fill="#fff">40.64</text>
<rect x="753" y="204" width="47" height="16.5" fill="#b40000"/>
<text x="756.5" y="216.8" fill="#fff">19.04</text>
<rect x="753" y="254" width="47" height="17" fill="#808080"/>
<text x="756.5" y="266.5" fill="#fff">49.43</text>
<rect x="753" y="335" width="47" height="17" fill="#0000bb"/>
<text x="756.5" y="347.3" fill="#fff">58.51</text>
<rect x="753" y="462.3" width="47" height="14.4" fill="#12a012"/>
<text x="756.5" y="474.6" fill="#fff">244.0K</text>
<rect x="753" y="499.2" width="47" height="17" fill="#ff0000"/>
<rect x="753" y="501.5" width="47" height="16.2" fill="#000080"/>
<text x="756.5" y="513.6" fill="#fff">108.0K</text>
<text x="14.2" y="13" fill="#808080" textLength="46.3" lengthAdjust="spacingAndGlyphs">ALSTOM</text>
<text x="64.3" y="13" fill="#808080">-</text>
<text x="71.5" y="13" fill="#808080" textLength="85" lengthAdjust="spacingAndGlyphs">abcbourse.com</text>
<text x="751" y="13" fill="#808080" text-anchor="end">5 ANS - HEBDO</text>
<text x="19.5" y="33" fill="#404040" textLength="40.5" lengthAdjust="spacingAndGlyphs">PIVOTS</text>
<text x="76.2" y="33" fill="#008000" textLength="42.6" lengthAdjust="spacingAndGlyphs">MM (20)</text>
<text x="134.2" y="33" fill="#ff0000" textLength="42.6" lengthAdjust="spacingAndGlyphs">MM (50)</text>
<text x="19.5" y="246.5" fill="#808080">SMI (14, 3, 5)</text>
<text x="19.5" y="329" fill="#0000c0">RSI (21)</text>
<text x="19.5" y="410.6" fill="#33aa33" textLength="48" lengthAdjust="spacingAndGlyphs">VOLUME</text>
<text x="19.3" y="491.9" fill="#10108a" textLength="22.8" lengthAdjust="spacingAndGlyphs">KVO</text>
<text x="401.5" y="222.8" fill="#000" style="font-size:20px" textLength="341.3" lengthAdjust="spacingAndGlyphs">Divergences baissières sur indicateurs</text>
<text x="83.4" y="574" fill="#000">12/2014</text>
<text x="164.5" y="574" fill="#000">07/2015</text>
<text x="244.7" y="574" fill="#000">01/2016</text>
<text x="325.8" y="574" fill="#000">08/2016</text>
<text x="406.8" y="574" fill="#000">03/2017</text>
<text x="487.8" y="574" fill="#000">09/2017</text>
<text x="567.8" y="574" fill="#000">04/2018</text>
<text x="649.1" y="574" fill="#000">11/2018</text>
</svg>
</body></html>
